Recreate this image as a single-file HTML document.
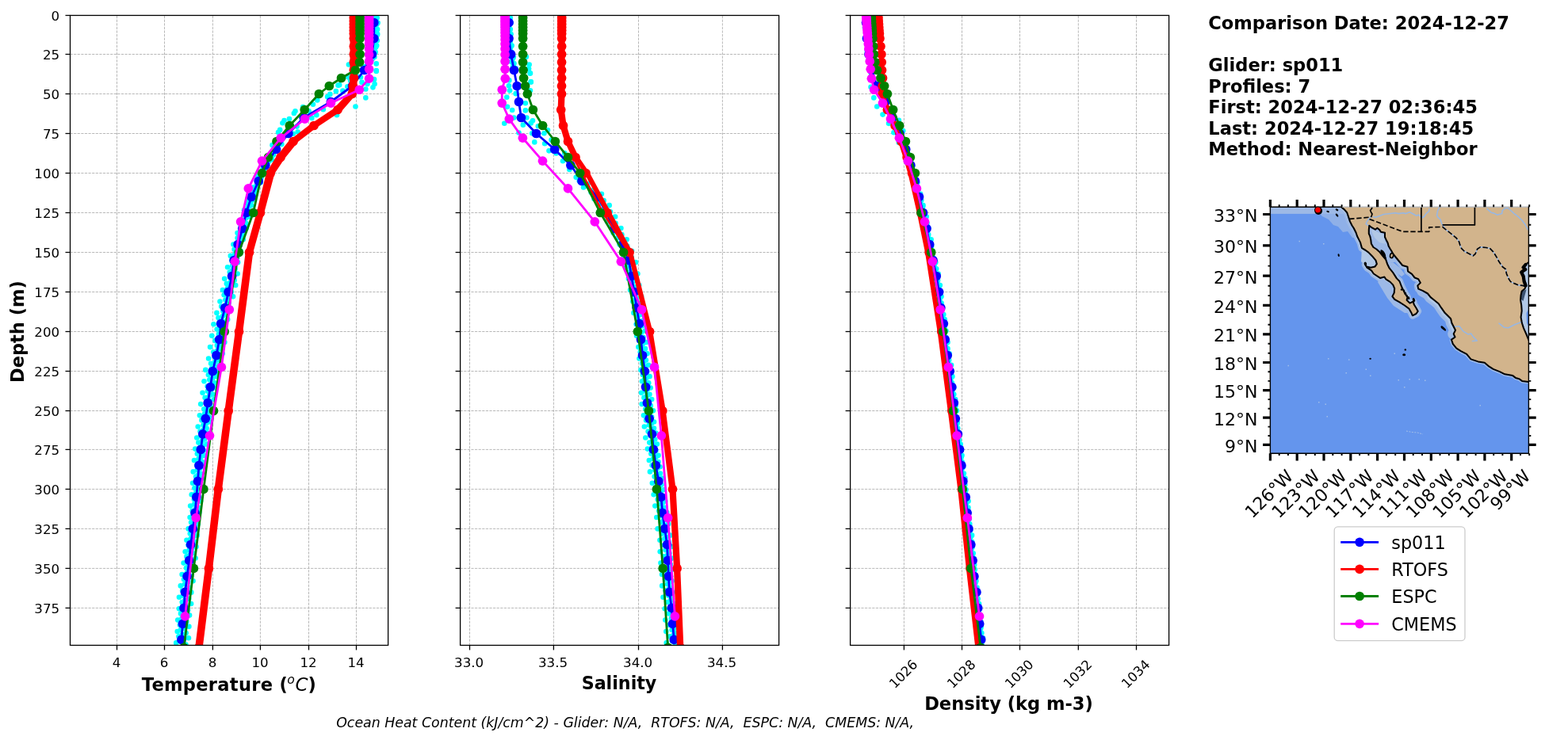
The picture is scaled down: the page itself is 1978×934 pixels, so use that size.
<!DOCTYPE html>
<html lang="en"><head><meta charset="utf-8"><title>Glider vs model profile comparison</title>
<style>html,body{margin:0;padding:0;background:#fff;}body{width:1978px;height:934px;overflow:hidden;}svg{display:block;font-family:'DejaVu Sans','Liberation Sans',sans-serif;}</style>
</head><body>
<svg width="1978" height="934" viewBox="0 0 1978 934">
<rect width="1978" height="934" fill="#fff"/>
<clipPath id="cT"><rect x="88.5" y="19.45" width="401.1" height="795"/></clipPath>
<g stroke="#b0b0b0" stroke-width="0.9" stroke-dasharray="3.2 1.4" fill="none">
<line x1="147.5" y1="814.45" x2="147.5" y2="19.45"/>
<line x1="207.5" y1="814.45" x2="207.5" y2="19.45"/>
<line x1="268.4" y1="814.45" x2="268.4" y2="19.45"/>
<line x1="328.4" y1="814.45" x2="328.4" y2="19.45"/>
<line x1="389.5" y1="814.45" x2="389.5" y2="19.45"/>
<line x1="449.5" y1="814.45" x2="449.5" y2="19.45"/>
<line x1="88.5" y1="68.5" x2="489.6" y2="68.5"/>
<line x1="88.5" y1="118.5" x2="489.6" y2="118.5"/>
<line x1="88.5" y1="168.5" x2="489.6" y2="168.5"/>
<line x1="88.5" y1="218.5" x2="489.6" y2="218.5"/>
<line x1="88.5" y1="268.5" x2="489.6" y2="268.5"/>
<line x1="88.5" y1="318.5" x2="489.6" y2="318.5"/>
<line x1="88.5" y1="368.5" x2="489.6" y2="368.5"/>
<line x1="88.5" y1="418.5" x2="489.6" y2="418.5"/>
<line x1="88.5" y1="468.5" x2="489.6" y2="468.5"/>
<line x1="88.5" y1="518.5" x2="489.6" y2="518.5"/>
<line x1="88.5" y1="567.4" x2="489.6" y2="567.4"/>
<line x1="88.5" y1="617.4" x2="489.6" y2="617.4"/>
<line x1="88.5" y1="667.4" x2="489.6" y2="667.4"/>
<line x1="88.5" y1="717.4" x2="489.6" y2="717.4"/>
<line x1="88.5" y1="767.4" x2="489.6" y2="767.4"/>
</g>
<g clip-path="url(#cT)">
<g fill="#00ffff">
<circle cx="473.26" cy="20.5" r="3.3"/>
<circle cx="473.35" cy="34.9" r="3.3"/>
<circle cx="473.54" cy="49.3" r="3.3"/>
<circle cx="471.37" cy="63.7" r="3.3"/>
<circle cx="466.1" cy="78.1" r="3.3"/>
<circle cx="332.28" cy="207.7" r="3.3"/>
<circle cx="325.11" cy="222.1" r="3.3"/>
<circle cx="318.97" cy="236.5" r="3.3"/>
<circle cx="312.69" cy="250.9" r="3.3"/>
<circle cx="308.03" cy="265.3" r="3.3"/>
<circle cx="303.11" cy="279.7" r="3.3"/>
<circle cx="299.52" cy="294.1" r="3.3"/>
<circle cx="294.43" cy="308.5" r="3.3"/>
<circle cx="290.83" cy="322.9" r="3.3"/>
<circle cx="287.11" cy="337.3" r="3.3"/>
<circle cx="283.17" cy="351.7" r="3.3"/>
<circle cx="280.94" cy="366.1" r="3.3"/>
<circle cx="277.48" cy="380.5" r="3.3"/>
<circle cx="273.39" cy="394.9" r="3.3"/>
<circle cx="269.48" cy="409.3" r="3.3"/>
<circle cx="267.28" cy="423.7" r="3.3"/>
<circle cx="265.04" cy="438.1" r="3.3"/>
<circle cx="263.11" cy="452.5" r="3.3"/>
<circle cx="259.29" cy="466.9" r="3.3"/>
<circle cx="257.45" cy="481.3" r="3.3"/>
<circle cx="255.54" cy="495.7" r="3.3"/>
<circle cx="253.18" cy="510.1" r="3.3"/>
<circle cx="251.93" cy="524.37" r="3.3"/>
<circle cx="249.74" cy="538.45" r="3.3"/>
<circle cx="248.27" cy="552.53" r="3.3"/>
<circle cx="246.26" cy="566.62" r="3.3"/>
<circle cx="245.01" cy="581" r="3.3"/>
<circle cx="243.73" cy="595.4" r="3.3"/>
<circle cx="243.09" cy="609.8" r="3.3"/>
<circle cx="241.71" cy="624.2" r="3.3"/>
<circle cx="240.16" cy="638.6" r="3.3"/>
<circle cx="239.61" cy="653" r="3.3"/>
<circle cx="237.64" cy="667.4" r="3.3"/>
<circle cx="235.47" cy="681.8" r="3.3"/>
<circle cx="233.68" cy="696.2" r="3.3"/>
<circle cx="231.63" cy="710.6" r="3.3"/>
<circle cx="229.63" cy="725" r="3.3"/>
<circle cx="227.82" cy="739.4" r="3.3"/>
<circle cx="225.98" cy="753.8" r="3.3"/>
<circle cx="225.86" cy="768.2" r="3.3"/>
<circle cx="224.26" cy="782.6" r="3.3"/>
<circle cx="223.74" cy="797" r="3.3"/>
<circle cx="222.25" cy="811.4" r="3.3"/>
<circle cx="474.17" cy="26.68" r="3.3"/>
<circle cx="474.08" cy="41.08" r="3.3"/>
<circle cx="472.53" cy="55.48" r="3.3"/>
<circle cx="470.39" cy="69.88" r="3.3"/>
<circle cx="460.64" cy="84.28" r="3.3"/>
<circle cx="339.4" cy="199.48" r="3.3"/>
<circle cx="331.52" cy="213.88" r="3.3"/>
<circle cx="324.41" cy="228.28" r="3.3"/>
<circle cx="317.3" cy="242.68" r="3.3"/>
<circle cx="312.54" cy="257.08" r="3.3"/>
<circle cx="308.22" cy="271.48" r="3.3"/>
<circle cx="303.95" cy="285.88" r="3.3"/>
<circle cx="299.61" cy="300.28" r="3.3"/>
<circle cx="295.6" cy="314.68" r="3.3"/>
<circle cx="292.45" cy="329.08" r="3.3"/>
<circle cx="289.79" cy="343.48" r="3.3"/>
<circle cx="285.85" cy="357.88" r="3.3"/>
<circle cx="282.68" cy="372.28" r="3.3"/>
<circle cx="279.22" cy="386.68" r="3.3"/>
<circle cx="275.41" cy="401.08" r="3.3"/>
<circle cx="273.7" cy="415.48" r="3.3"/>
<circle cx="271.33" cy="429.88" r="3.3"/>
<circle cx="269.31" cy="444.28" r="3.3"/>
<circle cx="266.09" cy="458.68" r="3.3"/>
<circle cx="262.86" cy="473.08" r="3.3"/>
<circle cx="261.64" cy="487.48" r="3.3"/>
<circle cx="258.62" cy="501.88" r="3.3"/>
<circle cx="257.26" cy="516.28" r="3.3"/>
<circle cx="254.49" cy="530.41" r="3.3"/>
<circle cx="252.51" cy="544.5" r="3.3"/>
<circle cx="250.37" cy="558.58" r="3.3"/>
<circle cx="248.83" cy="572.78" r="3.3"/>
<circle cx="248.28" cy="587.18" r="3.3"/>
<circle cx="247.08" cy="601.58" r="3.3"/>
<circle cx="245.33" cy="615.98" r="3.3"/>
<circle cx="244.91" cy="630.38" r="3.3"/>
<circle cx="242.67" cy="644.78" r="3.3"/>
<circle cx="241.09" cy="659.18" r="3.3"/>
<circle cx="239.78" cy="673.58" r="3.3"/>
<circle cx="237.56" cy="687.98" r="3.3"/>
<circle cx="235.42" cy="702.38" r="3.3"/>
<circle cx="234.97" cy="716.78" r="3.3"/>
<circle cx="232" cy="731.18" r="3.3"/>
<circle cx="230.18" cy="745.58" r="3.3"/>
<circle cx="229.72" cy="759.98" r="3.3"/>
<circle cx="228.01" cy="774.38" r="3.3"/>
<circle cx="226.87" cy="788.78" r="3.3"/>
<circle cx="225.4" cy="803.18" r="3.3"/>
<circle cx="473.97" cy="32.86" r="3.3"/>
<circle cx="474.37" cy="47.26" r="3.3"/>
<circle cx="472.45" cy="61.66" r="3.3"/>
<circle cx="468.18" cy="76.06" r="3.3"/>
<circle cx="335.87" cy="205.66" r="3.3"/>
<circle cx="329.02" cy="220.06" r="3.3"/>
<circle cx="323.34" cy="234.46" r="3.3"/>
<circle cx="316.13" cy="248.86" r="3.3"/>
<circle cx="311.53" cy="263.26" r="3.3"/>
<circle cx="307.99" cy="277.66" r="3.3"/>
<circle cx="303.39" cy="292.06" r="3.3"/>
<circle cx="299.17" cy="306.46" r="3.3"/>
<circle cx="296.35" cy="320.86" r="3.3"/>
<circle cx="293.21" cy="335.26" r="3.3"/>
<circle cx="290.22" cy="349.66" r="3.3"/>
<circle cx="286.83" cy="364.06" r="3.3"/>
<circle cx="284.39" cy="378.46" r="3.3"/>
<circle cx="281.34" cy="392.86" r="3.3"/>
<circle cx="276.55" cy="407.26" r="3.3"/>
<circle cx="275.93" cy="421.66" r="3.3"/>
<circle cx="273.8" cy="436.06" r="3.3"/>
<circle cx="270.7" cy="450.46" r="3.3"/>
<circle cx="267.11" cy="464.86" r="3.3"/>
<circle cx="264.3" cy="479.26" r="3.3"/>
<circle cx="262.09" cy="493.66" r="3.3"/>
<circle cx="261.12" cy="508.06" r="3.3"/>
<circle cx="258.06" cy="522.37" r="3.3"/>
<circle cx="256.43" cy="536.46" r="3.3"/>
<circle cx="253.48" cy="550.54" r="3.3"/>
<circle cx="252.52" cy="564.62" r="3.3"/>
<circle cx="250.58" cy="578.96" r="3.3"/>
<circle cx="248.79" cy="593.36" r="3.3"/>
<circle cx="247.59" cy="607.76" r="3.3"/>
<circle cx="247.17" cy="622.16" r="3.3"/>
<circle cx="244.98" cy="636.56" r="3.3"/>
<circle cx="243.75" cy="650.96" r="3.3"/>
<circle cx="242.26" cy="665.36" r="3.3"/>
<circle cx="240.73" cy="679.76" r="3.3"/>
<circle cx="238.71" cy="694.16" r="3.3"/>
<circle cx="236.84" cy="708.56" r="3.3"/>
<circle cx="235.85" cy="722.96" r="3.3"/>
<circle cx="232.98" cy="737.36" r="3.3"/>
<circle cx="231.08" cy="751.76" r="3.3"/>
<circle cx="230.35" cy="766.16" r="3.3"/>
<circle cx="229.52" cy="780.56" r="3.3"/>
<circle cx="227.85" cy="794.96" r="3.3"/>
<circle cx="227.02" cy="809.36" r="3.3"/>
<circle cx="474.7" cy="24.62" r="3.3"/>
<circle cx="474.86" cy="39.02" r="3.3"/>
<circle cx="473.89" cy="53.42" r="3.3"/>
<circle cx="472.27" cy="67.82" r="3.3"/>
<circle cx="463.12" cy="82.22" r="3.3"/>
<circle cx="343.06" cy="197.42" r="3.3"/>
<circle cx="333.59" cy="211.82" r="3.3"/>
<circle cx="327.45" cy="226.22" r="3.3"/>
<circle cx="320.8" cy="240.62" r="3.3"/>
<circle cx="314.48" cy="255.02" r="3.3"/>
<circle cx="309.73" cy="269.42" r="3.3"/>
<circle cx="306.25" cy="283.82" r="3.3"/>
<circle cx="303.65" cy="298.22" r="3.3"/>
<circle cx="299.45" cy="312.62" r="3.3"/>
<circle cx="296.22" cy="327.02" r="3.3"/>
<circle cx="292.85" cy="341.42" r="3.3"/>
<circle cx="291.14" cy="355.82" r="3.3"/>
<circle cx="287.71" cy="370.22" r="3.3"/>
<circle cx="284.96" cy="384.62" r="3.3"/>
<circle cx="280.86" cy="399.02" r="3.3"/>
<circle cx="278.91" cy="413.42" r="3.3"/>
<circle cx="276.17" cy="427.82" r="3.3"/>
<circle cx="274.23" cy="442.22" r="3.3"/>
<circle cx="271.42" cy="456.62" r="3.3"/>
<circle cx="268.49" cy="471.02" r="3.3"/>
<circle cx="266.18" cy="485.42" r="3.3"/>
<circle cx="263.87" cy="499.82" r="3.3"/>
<circle cx="261.78" cy="514.22" r="3.3"/>
<circle cx="259.86" cy="528.4" r="3.3"/>
<circle cx="256.55" cy="542.48" r="3.3"/>
<circle cx="254.94" cy="556.56" r="3.3"/>
<circle cx="253.48" cy="570.72" r="3.3"/>
<circle cx="251.78" cy="585.12" r="3.3"/>
<circle cx="249.98" cy="599.52" r="3.3"/>
<circle cx="249.35" cy="613.92" r="3.3"/>
<circle cx="248.23" cy="628.32" r="3.3"/>
<circle cx="246.52" cy="642.72" r="3.3"/>
<circle cx="244.86" cy="657.12" r="3.3"/>
<circle cx="242.58" cy="671.52" r="3.3"/>
<circle cx="240.92" cy="685.92" r="3.3"/>
<circle cx="239.53" cy="700.32" r="3.3"/>
<circle cx="237.16" cy="714.72" r="3.3"/>
<circle cx="236.07" cy="729.12" r="3.3"/>
<circle cx="234.7" cy="743.52" r="3.3"/>
<circle cx="233.24" cy="757.92" r="3.3"/>
<circle cx="231.95" cy="772.32" r="3.3"/>
<circle cx="230.39" cy="786.72" r="3.3"/>
<circle cx="229.73" cy="801.12" r="3.3"/>
<circle cx="475.36" cy="30.8" r="3.3"/>
<circle cx="475.25" cy="45.2" r="3.3"/>
<circle cx="474.18" cy="59.6" r="3.3"/>
<circle cx="469.77" cy="74" r="3.3"/>
<circle cx="339.29" cy="203.6" r="3.3"/>
<circle cx="330.89" cy="218" r="3.3"/>
<circle cx="325.45" cy="232.4" r="3.3"/>
<circle cx="318.79" cy="246.8" r="3.3"/>
<circle cx="313.59" cy="261.2" r="3.3"/>
<circle cx="310.22" cy="275.6" r="3.3"/>
<circle cx="306.47" cy="290" r="3.3"/>
<circle cx="302.68" cy="304.4" r="3.3"/>
<circle cx="299.51" cy="318.8" r="3.3"/>
<circle cx="295.66" cy="333.2" r="3.3"/>
<circle cx="293.57" cy="347.6" r="3.3"/>
<circle cx="290.91" cy="362" r="3.3"/>
<circle cx="288.29" cy="376.4" r="3.3"/>
<circle cx="284.45" cy="390.8" r="3.3"/>
<circle cx="280.74" cy="405.2" r="3.3"/>
<circle cx="279.83" cy="419.6" r="3.3"/>
<circle cx="277.59" cy="434" r="3.3"/>
<circle cx="274.63" cy="448.4" r="3.3"/>
<circle cx="271.89" cy="462.8" r="3.3"/>
<circle cx="268.51" cy="477.2" r="3.3"/>
<circle cx="266.87" cy="491.6" r="3.3"/>
<circle cx="263.92" cy="506" r="3.3"/>
<circle cx="262.12" cy="520.36" r="3.3"/>
<circle cx="260.29" cy="534.44" r="3.3"/>
<circle cx="257.89" cy="548.52" r="3.3"/>
<circle cx="255.97" cy="562.61" r="3.3"/>
<circle cx="253.5" cy="576.9" r="3.3"/>
<circle cx="252.2" cy="591.3" r="3.3"/>
<circle cx="250.68" cy="605.7" r="3.3"/>
<circle cx="249.18" cy="620.1" r="3.3"/>
<circle cx="248.51" cy="634.5" r="3.3"/>
<circle cx="247.72" cy="648.9" r="3.3"/>
<circle cx="245.88" cy="663.3" r="3.3"/>
<circle cx="243.83" cy="677.7" r="3.3"/>
<circle cx="242.5" cy="692.1" r="3.3"/>
<circle cx="240.26" cy="706.5" r="3.3"/>
<circle cx="238.33" cy="720.9" r="3.3"/>
<circle cx="236.91" cy="735.3" r="3.3"/>
<circle cx="234.98" cy="749.7" r="3.3"/>
<circle cx="233.88" cy="764.1" r="3.3"/>
<circle cx="233.13" cy="778.5" r="3.3"/>
<circle cx="232.38" cy="792.9" r="3.3"/>
<circle cx="231.11" cy="807.3" r="3.3"/>
<circle cx="475.65" cy="22.56" r="3.3"/>
<circle cx="476.07" cy="36.96" r="3.3"/>
<circle cx="475.83" cy="51.36" r="3.3"/>
<circle cx="473.6" cy="65.76" r="3.3"/>
<circle cx="464.79" cy="80.16" r="3.3"/>
<circle cx="344.95" cy="195.36" r="3.3"/>
<circle cx="336.71" cy="209.76" r="3.3"/>
<circle cx="329.48" cy="224.16" r="3.3"/>
<circle cx="324.1" cy="238.56" r="3.3"/>
<circle cx="318.06" cy="252.96" r="3.3"/>
<circle cx="313.13" cy="267.36" r="3.3"/>
<circle cx="310.38" cy="281.76" r="3.3"/>
<circle cx="305.66" cy="296.16" r="3.3"/>
<circle cx="302.12" cy="310.56" r="3.3"/>
<circle cx="299.25" cy="324.96" r="3.3"/>
<circle cx="296.64" cy="339.36" r="3.3"/>
<circle cx="295.68" cy="353.76" r="3.3"/>
<circle cx="291.73" cy="368.16" r="3.3"/>
<circle cx="288.52" cy="382.56" r="3.3"/>
<circle cx="284.98" cy="396.96" r="3.3"/>
<circle cx="282.59" cy="411.36" r="3.3"/>
<circle cx="280.93" cy="425.76" r="3.3"/>
<circle cx="278.78" cy="440.16" r="3.3"/>
<circle cx="275.87" cy="454.56" r="3.3"/>
<circle cx="272.77" cy="468.96" r="3.3"/>
<circle cx="270.92" cy="483.36" r="3.3"/>
<circle cx="268.34" cy="497.76" r="3.3"/>
<circle cx="265.44" cy="512.16" r="3.3"/>
<circle cx="263.65" cy="526.38" r="3.3"/>
<circle cx="260.6" cy="540.47" r="3.3"/>
<circle cx="258.02" cy="554.55" r="3.3"/>
<circle cx="256.7" cy="568.66" r="3.3"/>
<circle cx="255.21" cy="583.06" r="3.3"/>
<circle cx="253.04" cy="597.46" r="3.3"/>
<circle cx="251.87" cy="611.86" r="3.3"/>
<circle cx="250.81" cy="626.26" r="3.3"/>
<circle cx="250.23" cy="640.66" r="3.3"/>
<circle cx="248.56" cy="655.06" r="3.3"/>
<circle cx="246.96" cy="669.46" r="3.3"/>
<circle cx="245.43" cy="683.86" r="3.3"/>
<circle cx="243.63" cy="698.26" r="3.3"/>
<circle cx="242.78" cy="712.66" r="3.3"/>
<circle cx="241.21" cy="727.06" r="3.3"/>
<circle cx="238.33" cy="741.46" r="3.3"/>
<circle cx="238.26" cy="755.86" r="3.3"/>
<circle cx="237.03" cy="770.26" r="3.3"/>
<circle cx="235.26" cy="784.66" r="3.3"/>
<circle cx="234.72" cy="799.06" r="3.3"/>
<circle cx="234.44" cy="813.46" r="3.3"/>
<circle cx="476.63" cy="28.74" r="3.3"/>
<circle cx="476.2" cy="43.14" r="3.3"/>
<circle cx="475.23" cy="57.54" r="3.3"/>
<circle cx="472.42" cy="71.94" r="3.3"/>
<circle cx="343.08" cy="201.54" r="3.3"/>
<circle cx="335.53" cy="215.94" r="3.3"/>
<circle cx="328.83" cy="230.34" r="3.3"/>
<circle cx="322.75" cy="244.74" r="3.3"/>
<circle cx="317.16" cy="259.14" r="3.3"/>
<circle cx="313.84" cy="273.54" r="3.3"/>
<circle cx="310.73" cy="287.94" r="3.3"/>
<circle cx="306.75" cy="302.34" r="3.3"/>
<circle cx="303.55" cy="316.74" r="3.3"/>
<circle cx="300.04" cy="331.14" r="3.3"/>
<circle cx="299.61" cy="345.54" r="3.3"/>
<circle cx="297.2" cy="359.94" r="3.3"/>
<circle cx="294.06" cy="374.34" r="3.3"/>
<circle cx="290.39" cy="388.74" r="3.3"/>
<circle cx="287.11" cy="403.14" r="3.3"/>
<circle cx="284.23" cy="417.54" r="3.3"/>
<circle cx="283.37" cy="431.94" r="3.3"/>
<circle cx="280.67" cy="446.34" r="3.3"/>
<circle cx="276.73" cy="460.74" r="3.3"/>
<circle cx="273.62" cy="475.14" r="3.3"/>
<circle cx="272.06" cy="489.54" r="3.3"/>
<circle cx="269.95" cy="503.94" r="3.3"/>
<circle cx="268.15" cy="518.34" r="3.3"/>
<circle cx="265.26" cy="532.43" r="3.3"/>
<circle cx="261.8" cy="546.51" r="3.3"/>
<circle cx="260.74" cy="560.59" r="3.3"/>
<circle cx="257.69" cy="574.84" r="3.3"/>
<circle cx="256.85" cy="589.24" r="3.3"/>
<circle cx="254.6" cy="603.64" r="3.3"/>
<circle cx="253.38" cy="618.04" r="3.3"/>
<circle cx="253.13" cy="632.44" r="3.3"/>
<circle cx="251.28" cy="646.84" r="3.3"/>
<circle cx="249.74" cy="661.24" r="3.3"/>
<circle cx="248.67" cy="675.64" r="3.3"/>
<circle cx="247.48" cy="690.04" r="3.3"/>
<circle cx="246.57" cy="704.44" r="3.3"/>
<circle cx="244.84" cy="718.84" r="3.3"/>
<circle cx="243.56" cy="733.24" r="3.3"/>
<circle cx="241.31" cy="747.64" r="3.3"/>
<circle cx="241.11" cy="762.04" r="3.3"/>
<circle cx="239.06" cy="776.44" r="3.3"/>
<circle cx="238.39" cy="790.84" r="3.3"/>
<circle cx="237.91" cy="805.24" r="3.3"/>
<circle cx="474.73" cy="90" r="3.3"/>
<circle cx="472.05" cy="100.17" r="3.3"/>
<circle cx="470.45" cy="110.35" r="3.3"/>
<circle cx="461.34" cy="112.49" r="3.3"/>
<circle cx="461.34" cy="123.41" r="3.3"/>
<circle cx="448.49" cy="134.44" r="3.3"/>
<circle cx="426.54" cy="107.67" r="3.3"/>
<circle cx="423.86" cy="115.17" r="3.3"/>
<circle cx="416.37" cy="118.91" r="3.3"/>
<circle cx="438.32" cy="109.28" r="3.3"/>
<circle cx="456.52" cy="103.92" r="3.3"/>
<circle cx="432.43" cy="114.63" r="3.3"/>
<circle cx="372.46" cy="140.33" r="3.3"/>
<circle cx="370.85" cy="143.01" r="3.3"/>
<circle cx="358.54" cy="152.11" r="3.3"/>
<circle cx="356.4" cy="155.32" r="3.3"/>
<circle cx="353.18" cy="163.89" r="3.3"/>
<circle cx="351.04" cy="167.1" r="3.3"/>
<circle cx="424.93" cy="145.15" r="3.3"/>
<circle cx="399.23" cy="145.15" r="3.3"/>
<circle cx="393.34" cy="148.9" r="3.3"/>
<circle cx="374.6" cy="159.61" r="3.3"/>
<circle cx="375.67" cy="166.57" r="3.3"/>
<circle cx="369.78" cy="168.71" r="3.3"/>
<circle cx="407.8" cy="138.19" r="3.3"/>
<circle cx="394.95" cy="131.76" r="3.3"/>
<circle cx="400.3" cy="126.41" r="3.3"/>
<circle cx="382.1" cy="134.98" r="3.3"/>
<circle cx="355.32" cy="182.1" r="3.3"/>
<circle cx="343.54" cy="183.17" r="3.3"/>
<circle cx="413.15" cy="122.13" r="3.3"/>
<circle cx="364.96" cy="149.97" r="3.3"/>
<circle cx="389.59" cy="140.33" r="3.3"/>
<circle cx="442.07" cy="101.78" r="3.3"/>
<circle cx="450.63" cy="96.43" r="3.3"/>
<circle cx="474.73" cy="80.4" r="3.3"/>
<circle cx="474.73" cy="88.96" r="3.3"/>
<circle cx="439.93" cy="81.47" r="3.3"/>
<circle cx="439.39" cy="97.53" r="3.3"/>
<circle cx="454.92" cy="97.53" r="3.3"/>
<circle cx="463.48" cy="106.1" r="3.3"/>
<circle cx="472.59" cy="106.1" r="3.3"/>
<circle cx="428.15" cy="107.17" r="3.3"/>
<circle cx="444.21" cy="106.1" r="3.3"/>
</g>
<polyline points="471.8,28.5 471.8,48.5 469.3,68.5 459.5,88.5 444.5,108.5 417.4,128.5 383.2,148.5 363.9,168.5 348.5,188.5 334.8,208.5 326.2,228.5 317.1,248.5 310.6,268.5 305.8,288.5 300.2,308.5 295.2,328.5 292.6,348.5 288.1,368.5 283.8,388.5 278.7,408.5 276.7,428.5 273,448.5 268.3,468.5 265.4,488.5 262.2,508.5 259.3,528.28 255.8,547.84 253.3,567.4 251,587.4 249.5,607.4 247.8,627.4 246,647.4 243.3,667.4 240.6,687.4 238.7,707.4 236.1,727.4 233.5,747.4 232,767.4 230.5,787.4 228.9,807.4" fill="none" stroke="#0000ff" stroke-width="2.8" stroke-linejoin="round" stroke-linecap="butt"/>
<g fill="#0000ff">
<circle cx="471.8" cy="28.5" r="5.85"/>
<circle cx="471.8" cy="48.5" r="5.85"/>
<circle cx="469.3" cy="68.5" r="5.85"/>
<circle cx="459.5" cy="88.5" r="5.85"/>
<circle cx="444.5" cy="108.5" r="5.85"/>
<circle cx="417.4" cy="128.5" r="5.85"/>
<circle cx="383.2" cy="148.5" r="5.85"/>
<circle cx="363.9" cy="168.5" r="5.85"/>
<circle cx="348.5" cy="188.5" r="5.85"/>
<circle cx="334.8" cy="208.5" r="5.85"/>
<circle cx="326.2" cy="228.5" r="5.85"/>
<circle cx="317.1" cy="248.5" r="5.85"/>
<circle cx="310.6" cy="268.5" r="5.85"/>
<circle cx="305.8" cy="288.5" r="5.85"/>
<circle cx="300.2" cy="308.5" r="5.85"/>
<circle cx="295.2" cy="328.5" r="5.85"/>
<circle cx="292.6" cy="348.5" r="5.85"/>
<circle cx="288.1" cy="368.5" r="5.85"/>
<circle cx="283.8" cy="388.5" r="5.85"/>
<circle cx="278.7" cy="408.5" r="5.85"/>
<circle cx="276.7" cy="428.5" r="5.85"/>
<circle cx="273" cy="448.5" r="5.85"/>
<circle cx="268.3" cy="468.5" r="5.85"/>
<circle cx="265.4" cy="488.5" r="5.85"/>
<circle cx="262.2" cy="508.5" r="5.85"/>
<circle cx="259.3" cy="528.28" r="5.85"/>
<circle cx="255.8" cy="547.84" r="5.85"/>
<circle cx="253.3" cy="567.4" r="5.85"/>
<circle cx="251" cy="587.4" r="5.85"/>
<circle cx="249.5" cy="607.4" r="5.85"/>
<circle cx="247.8" cy="627.4" r="5.85"/>
<circle cx="246" cy="647.4" r="5.85"/>
<circle cx="243.3" cy="667.4" r="5.85"/>
<circle cx="240.6" cy="687.4" r="5.85"/>
<circle cx="238.7" cy="707.4" r="5.85"/>
<circle cx="236.1" cy="727.4" r="5.85"/>
<circle cx="233.5" cy="747.4" r="5.85"/>
<circle cx="232" cy="767.4" r="5.85"/>
<circle cx="230.5" cy="787.4" r="5.85"/>
<circle cx="228.9" cy="807.4" r="5.85"/>
</g>
<polyline points="442.9,18.5 442.9,22.5 442.9,26.5 442.9,30.5 442.9,34.5 442.9,38.5 442.9,42.5 442.9,48.5 442.9,58.5 442.9,68.5 442.9,78.5 442.9,88.5 443,98.5 441.9,108.5 440.4,118.5 421.4,138.5 391.47,158.5 365.53,178.5 349.6,198.5 337.3,218.5 325,268.5 311.1,318.5 298.1,418.5 284.8,518.5 271.9,617.4 260,717.4 247.5,817.4" fill="none" stroke="#ff0000" stroke-width="2.8" stroke-linejoin="round" stroke-linecap="butt"/>
<polyline points="444.6,18.5 444.6,22.5 444.6,26.5 444.6,30.5 444.6,34.5 444.6,38.5 444.6,42.5 444.6,48.5 444.6,58.5 444.6,68.5 444.6,78.5 444.6,88.5 444.7,98.5 443.6,108.5 442.3,118.5 423.7,138.5 393.73,158.5 367.77,178.5 351.8,198.5 339.25,218.5 326.7,268.5 312.8,318.5 299.8,418.5 286.5,518.5 273.6,617.4 261.7,717.4 249.2,817.4" fill="none" stroke="#ff0000" stroke-width="2.8" stroke-linejoin="round" stroke-linecap="butt"/>
<polyline points="446.3,18.5 446.3,22.5 446.3,26.5 446.3,30.5 446.3,34.5 446.3,38.5 446.3,42.5 446.3,48.5 446.3,58.5 446.3,68.5 446.3,78.5 446.3,88.5 446.4,98.5 445.3,108.5 444.2,118.5 426,138.5 396,158.5 370,178.5 354,198.5 341.2,218.5 328.4,268.5 314.5,318.5 301.5,418.5 288.2,518.5 275.3,617.4 263.4,717.4 250.9,817.4" fill="none" stroke="#ff0000" stroke-width="2.8" stroke-linejoin="round" stroke-linecap="butt"/>
<polyline points="448,18.5 448,22.5 448,26.5 448,30.5 448,34.5 448,38.5 448,42.5 448,48.5 448,58.5 448,68.5 448,78.5 448,88.5 448.1,98.5 447,108.5 446.1,118.5 428.3,138.5 398.27,158.5 372.23,178.5 356.2,198.5 343.15,218.5 330.1,268.5 316.2,318.5 303.2,418.5 289.9,518.5 277,617.4 265.1,717.4 252.6,817.4" fill="none" stroke="#ff0000" stroke-width="2.8" stroke-linejoin="round" stroke-linecap="butt"/>
<polyline points="449.7,18.5 449.7,22.5 449.7,26.5 449.7,30.5 449.7,34.5 449.7,38.5 449.7,42.5 449.7,48.5 449.7,58.5 449.7,68.5 449.7,78.5 449.7,88.5 449.8,98.5 448.7,108.5 448,118.5 430.6,138.5 400.53,158.5 374.47,178.5 358.4,198.5 345.1,218.5 331.8,268.5 317.9,318.5 304.9,418.5 291.6,518.5 278.7,617.4 266.8,717.4 254.3,817.4" fill="none" stroke="#ff0000" stroke-width="2.8" stroke-linejoin="round" stroke-linecap="butt"/>
<g fill="#ff0000">
<circle cx="446.3" cy="18.5" r="5.85"/>
<circle cx="446.3" cy="22.5" r="5.85"/>
<circle cx="446.3" cy="26.5" r="5.85"/>
<circle cx="446.3" cy="30.5" r="5.85"/>
<circle cx="446.3" cy="34.5" r="5.85"/>
<circle cx="446.3" cy="38.5" r="5.85"/>
<circle cx="446.3" cy="42.5" r="5.85"/>
<circle cx="446.3" cy="48.5" r="5.85"/>
<circle cx="446.3" cy="58.5" r="5.85"/>
<circle cx="446.3" cy="68.5" r="5.85"/>
<circle cx="446.3" cy="78.5" r="5.85"/>
<circle cx="446.3" cy="88.5" r="5.85"/>
<circle cx="446.4" cy="98.5" r="5.85"/>
<circle cx="445.3" cy="108.5" r="5.85"/>
<circle cx="444.2" cy="118.5" r="5.85"/>
<circle cx="426" cy="138.5" r="5.85"/>
<circle cx="396" cy="158.5" r="5.85"/>
<circle cx="370" cy="178.5" r="5.85"/>
<circle cx="354" cy="198.5" r="5.85"/>
<circle cx="341.2" cy="218.5" r="5.85"/>
<circle cx="328.4" cy="268.5" r="5.85"/>
<circle cx="314.5" cy="318.5" r="5.85"/>
<circle cx="301.5" cy="418.5" r="5.85"/>
<circle cx="288.2" cy="518.5" r="5.85"/>
<circle cx="275.3" cy="617.4" r="5.85"/>
<circle cx="263.4" cy="717.4" r="5.85"/>
<circle cx="250.9" cy="817.4" r="5.85"/>
</g>
<polyline points="454.1,18.5 454.1,22.5 454.1,26.5 454.1,30.5 454.1,34.5 454.1,38.5 454.1,42.5 454.1,48.5 454.1,58.5 454.1,68.5 453.6,78.5 448.3,88.5 430.5,98.5 415.3,108.5 402.4,118.5 384.2,138.5 365.3,158.5 349,178.5 338.5,198.5 330.5,218.5 319.5,268.5 301.3,318.5 283.2,418.5 269.5,518.5 256.9,617.4 244.4,717.4 232,817.4" fill="none" stroke="#008000" stroke-width="2.8" stroke-linejoin="round" stroke-linecap="butt"/>
<g fill="#008000">
<circle cx="454.1" cy="18.5" r="5.85"/>
<circle cx="454.1" cy="22.5" r="5.85"/>
<circle cx="454.1" cy="26.5" r="5.85"/>
<circle cx="454.1" cy="30.5" r="5.85"/>
<circle cx="454.1" cy="34.5" r="5.85"/>
<circle cx="454.1" cy="38.5" r="5.85"/>
<circle cx="454.1" cy="42.5" r="5.85"/>
<circle cx="454.1" cy="48.5" r="5.85"/>
<circle cx="454.1" cy="58.5" r="5.85"/>
<circle cx="454.1" cy="68.5" r="5.85"/>
<circle cx="453.6" cy="78.5" r="5.85"/>
<circle cx="448.3" cy="88.5" r="5.85"/>
<circle cx="430.5" cy="98.5" r="5.85"/>
<circle cx="415.3" cy="108.5" r="5.85"/>
<circle cx="402.4" cy="118.5" r="5.85"/>
<circle cx="384.2" cy="138.5" r="5.85"/>
<circle cx="365.3" cy="158.5" r="5.85"/>
<circle cx="349" cy="178.5" r="5.85"/>
<circle cx="338.5" cy="198.5" r="5.85"/>
<circle cx="330.5" cy="218.5" r="5.85"/>
<circle cx="319.5" cy="268.5" r="5.85"/>
<circle cx="301.3" cy="318.5" r="5.85"/>
<circle cx="283.2" cy="418.5" r="5.85"/>
<circle cx="269.5" cy="518.5" r="5.85"/>
<circle cx="256.9" cy="617.4" r="5.85"/>
<circle cx="244.4" cy="717.4" r="5.85"/>
<circle cx="232" cy="817.4" r="5.85"/>
</g>
<polyline points="465.6,19.49 465.6,21.58 465.6,23.79 465.6,26.14 465.6,28.66 465.6,31.38 465.6,34.36 465.6,37.65 465.6,41.31 465.6,45.43 465.6,50.12 465.6,55.49 465.6,61.7 465.6,68.92 465.6,77.39 465.6,87.37 465.6,99.19 453.3,113.25 417.4,130.03 384.5,150.11 354.3,174.21 330.5,203.15 313.3,237.96 303.6,279.83 296.3,330.2 289.3,390.75 279.4,463.45 264.5,549.87 247.2,653.65 233.5,777.83" fill="none" stroke="#ff00ff" stroke-width="2.8" stroke-linejoin="round" stroke-linecap="butt"/>
<g fill="#ff00ff">
<circle cx="465.6" cy="19.49" r="5.85"/>
<circle cx="465.6" cy="21.58" r="5.85"/>
<circle cx="465.6" cy="23.79" r="5.85"/>
<circle cx="465.6" cy="26.14" r="5.85"/>
<circle cx="465.6" cy="28.66" r="5.85"/>
<circle cx="465.6" cy="31.38" r="5.85"/>
<circle cx="465.6" cy="34.36" r="5.85"/>
<circle cx="465.6" cy="37.65" r="5.85"/>
<circle cx="465.6" cy="41.31" r="5.85"/>
<circle cx="465.6" cy="45.43" r="5.85"/>
<circle cx="465.6" cy="50.12" r="5.85"/>
<circle cx="465.6" cy="55.49" r="5.85"/>
<circle cx="465.6" cy="61.7" r="5.85"/>
<circle cx="465.6" cy="68.92" r="5.85"/>
<circle cx="465.6" cy="77.39" r="5.85"/>
<circle cx="465.6" cy="87.37" r="5.85"/>
<circle cx="465.6" cy="99.19" r="5.85"/>
<circle cx="453.3" cy="113.25" r="5.85"/>
<circle cx="417.4" cy="130.03" r="5.85"/>
<circle cx="384.5" cy="150.11" r="5.85"/>
<circle cx="354.3" cy="174.21" r="5.85"/>
<circle cx="330.5" cy="203.15" r="5.85"/>
<circle cx="313.3" cy="237.96" r="5.85"/>
<circle cx="303.6" cy="279.83" r="5.85"/>
<circle cx="296.3" cy="330.2" r="5.85"/>
<circle cx="289.3" cy="390.75" r="5.85"/>
<circle cx="279.4" cy="463.45" r="5.85"/>
<circle cx="264.5" cy="549.87" r="5.85"/>
<circle cx="247.2" cy="653.65" r="5.85"/>
<circle cx="233.5" cy="777.83" r="5.85"/>
</g>
</g>
<rect x="88.5" y="19.45" width="401.1" height="795" fill="none" stroke="#000" stroke-width="1.3"/>
<g stroke="#000" stroke-width="1.3">
<line x1="147.5" y1="814.45" x2="147.5" y2="820.45"/>
<line x1="207.5" y1="814.45" x2="207.5" y2="820.45"/>
<line x1="268.4" y1="814.45" x2="268.4" y2="820.45"/>
<line x1="328.4" y1="814.45" x2="328.4" y2="820.45"/>
<line x1="389.5" y1="814.45" x2="389.5" y2="820.45"/>
<line x1="449.5" y1="814.45" x2="449.5" y2="820.45"/>
<line x1="88.5" y1="19.45" x2="82.5" y2="19.45"/>
<line x1="88.5" y1="68.5" x2="82.5" y2="68.5"/>
<line x1="88.5" y1="118.5" x2="82.5" y2="118.5"/>
<line x1="88.5" y1="168.5" x2="82.5" y2="168.5"/>
<line x1="88.5" y1="218.5" x2="82.5" y2="218.5"/>
<line x1="88.5" y1="268.5" x2="82.5" y2="268.5"/>
<line x1="88.5" y1="318.5" x2="82.5" y2="318.5"/>
<line x1="88.5" y1="368.5" x2="82.5" y2="368.5"/>
<line x1="88.5" y1="418.5" x2="82.5" y2="418.5"/>
<line x1="88.5" y1="468.5" x2="82.5" y2="468.5"/>
<line x1="88.5" y1="518.5" x2="82.5" y2="518.5"/>
<line x1="88.5" y1="567.4" x2="82.5" y2="567.4"/>
<line x1="88.5" y1="617.4" x2="82.5" y2="617.4"/>
<line x1="88.5" y1="667.4" x2="82.5" y2="667.4"/>
<line x1="88.5" y1="717.4" x2="82.5" y2="717.4"/>
<line x1="88.5" y1="767.4" x2="82.5" y2="767.4"/>
</g>
<g font-size="16.67" fill="#000">
<text x="147.1" y="841.5" text-anchor="middle">4</text>
<text x="207.1" y="841.5" text-anchor="middle">6</text>
<text x="268" y="841.5" text-anchor="middle">8</text>
<text x="328" y="841.5" text-anchor="middle">10</text>
<text x="389.1" y="841.5" text-anchor="middle">12</text>
<text x="449.1" y="841.5" text-anchor="middle">14</text>
<text x="75.1" y="25.85" text-anchor="end">0</text>
<text x="75.1" y="74.9" text-anchor="end">25</text>
<text x="75.1" y="124.9" text-anchor="end">50</text>
<text x="75.1" y="174.9" text-anchor="end">75</text>
<text x="75.1" y="224.9" text-anchor="end">100</text>
<text x="75.1" y="274.9" text-anchor="end">125</text>
<text x="75.1" y="324.9" text-anchor="end">150</text>
<text x="75.1" y="374.9" text-anchor="end">175</text>
<text x="75.1" y="424.9" text-anchor="end">200</text>
<text x="75.1" y="474.9" text-anchor="end">225</text>
<text x="75.1" y="524.9" text-anchor="end">250</text>
<text x="75.1" y="573.8" text-anchor="end">275</text>
<text x="75.1" y="623.8" text-anchor="end">300</text>
<text x="75.1" y="673.8" text-anchor="end">325</text>
<text x="75.1" y="723.8" text-anchor="end">350</text>
<text x="75.1" y="773.8" text-anchor="end">375</text>
</g>
<clipPath id="cS"><rect x="580.6" y="19.45" width="402" height="795"/></clipPath>
<g stroke="#b0b0b0" stroke-width="0.9" stroke-dasharray="3.2 1.4" fill="none">
<line x1="592.5" y1="814.45" x2="592.5" y2="19.45"/>
<line x1="698.4" y1="814.45" x2="698.4" y2="19.45"/>
<line x1="805.5" y1="814.45" x2="805.5" y2="19.45"/>
<line x1="911.4" y1="814.45" x2="911.4" y2="19.45"/>
<line x1="580.6" y1="68.5" x2="982.6" y2="68.5"/>
<line x1="580.6" y1="118.5" x2="982.6" y2="118.5"/>
<line x1="580.6" y1="168.5" x2="982.6" y2="168.5"/>
<line x1="580.6" y1="218.5" x2="982.6" y2="218.5"/>
<line x1="580.6" y1="268.5" x2="982.6" y2="268.5"/>
<line x1="580.6" y1="318.5" x2="982.6" y2="318.5"/>
<line x1="580.6" y1="368.5" x2="982.6" y2="368.5"/>
<line x1="580.6" y1="418.5" x2="982.6" y2="418.5"/>
<line x1="580.6" y1="468.5" x2="982.6" y2="468.5"/>
<line x1="580.6" y1="518.5" x2="982.6" y2="518.5"/>
<line x1="580.6" y1="567.4" x2="982.6" y2="567.4"/>
<line x1="580.6" y1="617.4" x2="982.6" y2="617.4"/>
<line x1="580.6" y1="667.4" x2="982.6" y2="667.4"/>
<line x1="580.6" y1="717.4" x2="982.6" y2="717.4"/>
<line x1="580.6" y1="767.4" x2="982.6" y2="767.4"/>
</g>
<g clip-path="url(#cS)">
<g fill="#00ffff">
<circle cx="640.98" cy="20.5" r="3.3"/>
<circle cx="641.13" cy="34.9" r="3.3"/>
<circle cx="641.24" cy="49.3" r="3.3"/>
<circle cx="642.69" cy="63.7" r="3.3"/>
<circle cx="645.03" cy="78.1" r="3.3"/>
<circle cx="736.1" cy="236.5" r="3.3"/>
<circle cx="749.48" cy="250.9" r="3.3"/>
<circle cx="758.58" cy="265.3" r="3.3"/>
<circle cx="766.09" cy="279.7" r="3.3"/>
<circle cx="773.65" cy="294.1" r="3.3"/>
<circle cx="781.58" cy="308.5" r="3.3"/>
<circle cx="787.38" cy="322.9" r="3.3"/>
<circle cx="790.15" cy="337.3" r="3.3"/>
<circle cx="792.89" cy="351.7" r="3.3"/>
<circle cx="795.05" cy="366.1" r="3.3"/>
<circle cx="798.33" cy="380.5" r="3.3"/>
<circle cx="799.4" cy="394.9" r="3.3"/>
<circle cx="802.74" cy="409.3" r="3.3"/>
<circle cx="803.1" cy="423.7" r="3.3"/>
<circle cx="805.35" cy="438.1" r="3.3"/>
<circle cx="806.41" cy="452.5" r="3.3"/>
<circle cx="808.48" cy="466.9" r="3.3"/>
<circle cx="809.95" cy="481.3" r="3.3"/>
<circle cx="809.07" cy="495.7" r="3.3"/>
<circle cx="809.66" cy="510.1" r="3.3"/>
<circle cx="811.96" cy="524.37" r="3.3"/>
<circle cx="812.88" cy="538.45" r="3.3"/>
<circle cx="814.33" cy="552.53" r="3.3"/>
<circle cx="816.9" cy="566.62" r="3.3"/>
<circle cx="818.84" cy="581" r="3.3"/>
<circle cx="819.95" cy="595.4" r="3.3"/>
<circle cx="822.82" cy="609.8" r="3.3"/>
<circle cx="824.67" cy="624.2" r="3.3"/>
<circle cx="826.33" cy="638.6" r="3.3"/>
<circle cx="828.27" cy="653" r="3.3"/>
<circle cx="829.66" cy="667.4" r="3.3"/>
<circle cx="832.45" cy="681.8" r="3.3"/>
<circle cx="832.7" cy="696.2" r="3.3"/>
<circle cx="833.48" cy="710.6" r="3.3"/>
<circle cx="835.05" cy="725" r="3.3"/>
<circle cx="835.2" cy="739.4" r="3.3"/>
<circle cx="836.51" cy="753.8" r="3.3"/>
<circle cx="838.66" cy="768.2" r="3.3"/>
<circle cx="839.3" cy="782.6" r="3.3"/>
<circle cx="840.28" cy="797" r="3.3"/>
<circle cx="840.66" cy="811.4" r="3.3"/>
<circle cx="641.68" cy="26.68" r="3.3"/>
<circle cx="641.87" cy="41.08" r="3.3"/>
<circle cx="642.79" cy="55.48" r="3.3"/>
<circle cx="644.49" cy="69.88" r="3.3"/>
<circle cx="646.98" cy="84.28" r="3.3"/>
<circle cx="730.75" cy="228.28" r="3.3"/>
<circle cx="745.55" cy="242.68" r="3.3"/>
<circle cx="756.23" cy="257.08" r="3.3"/>
<circle cx="763.48" cy="271.48" r="3.3"/>
<circle cx="770.99" cy="285.88" r="3.3"/>
<circle cx="778.93" cy="300.28" r="3.3"/>
<circle cx="786.03" cy="314.68" r="3.3"/>
<circle cx="791.81" cy="329.08" r="3.3"/>
<circle cx="793.66" cy="343.48" r="3.3"/>
<circle cx="795.47" cy="357.88" r="3.3"/>
<circle cx="799.05" cy="372.28" r="3.3"/>
<circle cx="800.71" cy="386.68" r="3.3"/>
<circle cx="803.17" cy="401.08" r="3.3"/>
<circle cx="804.66" cy="415.48" r="3.3"/>
<circle cx="806.36" cy="429.88" r="3.3"/>
<circle cx="807.73" cy="444.28" r="3.3"/>
<circle cx="810.09" cy="458.68" r="3.3"/>
<circle cx="810.8" cy="473.08" r="3.3"/>
<circle cx="812.09" cy="487.48" r="3.3"/>
<circle cx="812.42" cy="501.88" r="3.3"/>
<circle cx="814.37" cy="516.28" r="3.3"/>
<circle cx="815.05" cy="530.41" r="3.3"/>
<circle cx="817.59" cy="544.5" r="3.3"/>
<circle cx="819.29" cy="558.58" r="3.3"/>
<circle cx="821.31" cy="572.78" r="3.3"/>
<circle cx="822.55" cy="587.18" r="3.3"/>
<circle cx="825.61" cy="601.58" r="3.3"/>
<circle cx="827.62" cy="615.98" r="3.3"/>
<circle cx="829.78" cy="630.38" r="3.3"/>
<circle cx="831.25" cy="644.78" r="3.3"/>
<circle cx="833.83" cy="659.18" r="3.3"/>
<circle cx="835.23" cy="673.58" r="3.3"/>
<circle cx="837.9" cy="687.98" r="3.3"/>
<circle cx="837.41" cy="702.38" r="3.3"/>
<circle cx="839.14" cy="716.78" r="3.3"/>
<circle cx="839.07" cy="731.18" r="3.3"/>
<circle cx="839.59" cy="745.58" r="3.3"/>
<circle cx="842.21" cy="759.98" r="3.3"/>
<circle cx="843.87" cy="774.38" r="3.3"/>
<circle cx="843.48" cy="788.78" r="3.3"/>
<circle cx="845.12" cy="803.18" r="3.3"/>
<circle cx="642.22" cy="32.86" r="3.3"/>
<circle cx="641.87" cy="47.26" r="3.3"/>
<circle cx="643.5" cy="61.66" r="3.3"/>
<circle cx="645.64" cy="76.06" r="3.3"/>
<circle cx="648.4" cy="90.46" r="3.3"/>
<circle cx="738.82" cy="234.46" r="3.3"/>
<circle cx="753.49" cy="248.86" r="3.3"/>
<circle cx="761.64" cy="263.26" r="3.3"/>
<circle cx="768.53" cy="277.66" r="3.3"/>
<circle cx="775.24" cy="292.06" r="3.3"/>
<circle cx="783.43" cy="306.46" r="3.3"/>
<circle cx="789.92" cy="320.86" r="3.3"/>
<circle cx="793.95" cy="335.26" r="3.3"/>
<circle cx="796" cy="349.66" r="3.3"/>
<circle cx="798.01" cy="364.06" r="3.3"/>
<circle cx="800.76" cy="378.46" r="3.3"/>
<circle cx="802.96" cy="392.86" r="3.3"/>
<circle cx="805.53" cy="407.26" r="3.3"/>
<circle cx="806.53" cy="421.66" r="3.3"/>
<circle cx="808.92" cy="436.06" r="3.3"/>
<circle cx="810.36" cy="450.46" r="3.3"/>
<circle cx="811.34" cy="464.86" r="3.3"/>
<circle cx="812.71" cy="479.26" r="3.3"/>
<circle cx="814.4" cy="493.66" r="3.3"/>
<circle cx="814.68" cy="508.06" r="3.3"/>
<circle cx="817.35" cy="522.37" r="3.3"/>
<circle cx="818.8" cy="536.46" r="3.3"/>
<circle cx="821.27" cy="550.54" r="3.3"/>
<circle cx="822.64" cy="564.62" r="3.3"/>
<circle cx="823.88" cy="578.96" r="3.3"/>
<circle cx="826.24" cy="593.36" r="3.3"/>
<circle cx="828.7" cy="607.76" r="3.3"/>
<circle cx="831.59" cy="622.16" r="3.3"/>
<circle cx="833.21" cy="636.56" r="3.3"/>
<circle cx="833.85" cy="650.96" r="3.3"/>
<circle cx="836.98" cy="665.36" r="3.3"/>
<circle cx="838.41" cy="679.76" r="3.3"/>
<circle cx="839.56" cy="694.16" r="3.3"/>
<circle cx="840.47" cy="708.56" r="3.3"/>
<circle cx="841.94" cy="722.96" r="3.3"/>
<circle cx="842.11" cy="737.36" r="3.3"/>
<circle cx="843.36" cy="751.76" r="3.3"/>
<circle cx="845.77" cy="766.16" r="3.3"/>
<circle cx="846.79" cy="780.56" r="3.3"/>
<circle cx="847.58" cy="794.96" r="3.3"/>
<circle cx="848.21" cy="809.36" r="3.3"/>
<circle cx="642.57" cy="24.62" r="3.3"/>
<circle cx="642.82" cy="39.02" r="3.3"/>
<circle cx="643.37" cy="53.42" r="3.3"/>
<circle cx="645.08" cy="67.82" r="3.3"/>
<circle cx="647.58" cy="82.22" r="3.3"/>
<circle cx="745.81" cy="240.62" r="3.3"/>
<circle cx="757.78" cy="255.02" r="3.3"/>
<circle cx="765.55" cy="269.42" r="3.3"/>
<circle cx="771.98" cy="283.82" r="3.3"/>
<circle cx="780.49" cy="298.22" r="3.3"/>
<circle cx="787.83" cy="312.62" r="3.3"/>
<circle cx="793.15" cy="327.02" r="3.3"/>
<circle cx="795.92" cy="341.42" r="3.3"/>
<circle cx="798.39" cy="355.82" r="3.3"/>
<circle cx="800.42" cy="370.22" r="3.3"/>
<circle cx="803" cy="384.62" r="3.3"/>
<circle cx="804.77" cy="399.02" r="3.3"/>
<circle cx="806.43" cy="413.42" r="3.3"/>
<circle cx="808.23" cy="427.82" r="3.3"/>
<circle cx="809.61" cy="442.22" r="3.3"/>
<circle cx="812.24" cy="456.62" r="3.3"/>
<circle cx="813.73" cy="471.02" r="3.3"/>
<circle cx="814.46" cy="485.42" r="3.3"/>
<circle cx="815.79" cy="499.82" r="3.3"/>
<circle cx="816.65" cy="514.22" r="3.3"/>
<circle cx="819.17" cy="528.4" r="3.3"/>
<circle cx="821.85" cy="542.48" r="3.3"/>
<circle cx="823.2" cy="556.56" r="3.3"/>
<circle cx="824.53" cy="570.72" r="3.3"/>
<circle cx="826.84" cy="585.12" r="3.3"/>
<circle cx="829.17" cy="599.52" r="3.3"/>
<circle cx="832.1" cy="613.92" r="3.3"/>
<circle cx="833.58" cy="628.32" r="3.3"/>
<circle cx="834.73" cy="642.72" r="3.3"/>
<circle cx="836.85" cy="657.12" r="3.3"/>
<circle cx="839.47" cy="671.52" r="3.3"/>
<circle cx="841.65" cy="685.92" r="3.3"/>
<circle cx="842.3" cy="700.32" r="3.3"/>
<circle cx="843.37" cy="714.72" r="3.3"/>
<circle cx="843.31" cy="729.12" r="3.3"/>
<circle cx="843.63" cy="743.52" r="3.3"/>
<circle cx="845.96" cy="757.92" r="3.3"/>
<circle cx="847.52" cy="772.32" r="3.3"/>
<circle cx="848.01" cy="786.72" r="3.3"/>
<circle cx="849.97" cy="801.12" r="3.3"/>
<circle cx="642.87" cy="30.8" r="3.3"/>
<circle cx="642.79" cy="45.2" r="3.3"/>
<circle cx="644.3" cy="59.6" r="3.3"/>
<circle cx="647" cy="74" r="3.3"/>
<circle cx="648.99" cy="88.4" r="3.3"/>
<circle cx="739.89" cy="232.4" r="3.3"/>
<circle cx="754.01" cy="246.8" r="3.3"/>
<circle cx="762.67" cy="261.2" r="3.3"/>
<circle cx="770.6" cy="275.6" r="3.3"/>
<circle cx="777.53" cy="290" r="3.3"/>
<circle cx="786.19" cy="304.4" r="3.3"/>
<circle cx="791.69" cy="318.8" r="3.3"/>
<circle cx="796.37" cy="333.2" r="3.3"/>
<circle cx="797.9" cy="347.6" r="3.3"/>
<circle cx="800.85" cy="362" r="3.3"/>
<circle cx="803.32" cy="376.4" r="3.3"/>
<circle cx="805.79" cy="390.8" r="3.3"/>
<circle cx="807.22" cy="405.2" r="3.3"/>
<circle cx="809.05" cy="419.6" r="3.3"/>
<circle cx="811.04" cy="434" r="3.3"/>
<circle cx="812.44" cy="448.4" r="3.3"/>
<circle cx="813.59" cy="462.8" r="3.3"/>
<circle cx="815.38" cy="477.2" r="3.3"/>
<circle cx="816.7" cy="491.6" r="3.3"/>
<circle cx="817.47" cy="506" r="3.3"/>
<circle cx="819.69" cy="520.36" r="3.3"/>
<circle cx="821.83" cy="534.44" r="3.3"/>
<circle cx="824.65" cy="548.52" r="3.3"/>
<circle cx="825.42" cy="562.61" r="3.3"/>
<circle cx="827.43" cy="576.9" r="3.3"/>
<circle cx="829.16" cy="591.3" r="3.3"/>
<circle cx="832.21" cy="605.7" r="3.3"/>
<circle cx="833.95" cy="620.1" r="3.3"/>
<circle cx="835.95" cy="634.5" r="3.3"/>
<circle cx="837.04" cy="648.9" r="3.3"/>
<circle cx="839.02" cy="663.3" r="3.3"/>
<circle cx="840.85" cy="677.7" r="3.3"/>
<circle cx="842.56" cy="692.1" r="3.3"/>
<circle cx="843.63" cy="706.5" r="3.3"/>
<circle cx="843.91" cy="720.9" r="3.3"/>
<circle cx="844.35" cy="735.3" r="3.3"/>
<circle cx="846.37" cy="749.7" r="3.3"/>
<circle cx="847.64" cy="764.1" r="3.3"/>
<circle cx="849.65" cy="778.5" r="3.3"/>
<circle cx="850.18" cy="792.9" r="3.3"/>
<circle cx="851.15" cy="807.3" r="3.3"/>
<circle cx="643.8" cy="22.56" r="3.3"/>
<circle cx="643.82" cy="36.96" r="3.3"/>
<circle cx="643.73" cy="51.36" r="3.3"/>
<circle cx="645.44" cy="65.76" r="3.3"/>
<circle cx="648.43" cy="80.16" r="3.3"/>
<circle cx="749.75" cy="238.56" r="3.3"/>
<circle cx="761.7" cy="252.96" r="3.3"/>
<circle cx="769.95" cy="267.36" r="3.3"/>
<circle cx="776.64" cy="281.76" r="3.3"/>
<circle cx="784.33" cy="296.16" r="3.3"/>
<circle cx="791.16" cy="310.56" r="3.3"/>
<circle cx="796.77" cy="324.96" r="3.3"/>
<circle cx="799.75" cy="339.36" r="3.3"/>
<circle cx="802.11" cy="353.76" r="3.3"/>
<circle cx="804.5" cy="368.16" r="3.3"/>
<circle cx="807.03" cy="382.56" r="3.3"/>
<circle cx="808.16" cy="396.96" r="3.3"/>
<circle cx="810.12" cy="411.36" r="3.3"/>
<circle cx="811.47" cy="425.76" r="3.3"/>
<circle cx="813.89" cy="440.16" r="3.3"/>
<circle cx="814.93" cy="454.56" r="3.3"/>
<circle cx="816.23" cy="468.96" r="3.3"/>
<circle cx="818.24" cy="483.36" r="3.3"/>
<circle cx="819.44" cy="497.76" r="3.3"/>
<circle cx="820.8" cy="512.16" r="3.3"/>
<circle cx="822.08" cy="526.38" r="3.3"/>
<circle cx="824.96" cy="540.47" r="3.3"/>
<circle cx="826.27" cy="554.55" r="3.3"/>
<circle cx="827.45" cy="568.66" r="3.3"/>
<circle cx="830.53" cy="583.06" r="3.3"/>
<circle cx="832.86" cy="597.46" r="3.3"/>
<circle cx="834.42" cy="611.86" r="3.3"/>
<circle cx="837.61" cy="626.26" r="3.3"/>
<circle cx="837.66" cy="640.66" r="3.3"/>
<circle cx="839.67" cy="655.06" r="3.3"/>
<circle cx="841.28" cy="669.46" r="3.3"/>
<circle cx="843.53" cy="683.86" r="3.3"/>
<circle cx="844.45" cy="698.26" r="3.3"/>
<circle cx="845.84" cy="712.66" r="3.3"/>
<circle cx="845.9" cy="727.06" r="3.3"/>
<circle cx="846.48" cy="741.46" r="3.3"/>
<circle cx="847.92" cy="755.86" r="3.3"/>
<circle cx="849.82" cy="770.26" r="3.3"/>
<circle cx="851.39" cy="784.66" r="3.3"/>
<circle cx="852.18" cy="799.06" r="3.3"/>
<circle cx="852.16" cy="813.46" r="3.3"/>
<circle cx="644.65" cy="28.74" r="3.3"/>
<circle cx="644.53" cy="43.14" r="3.3"/>
<circle cx="645.63" cy="57.54" r="3.3"/>
<circle cx="647.78" cy="71.94" r="3.3"/>
<circle cx="650.61" cy="86.34" r="3.3"/>
<circle cx="745.16" cy="230.34" r="3.3"/>
<circle cx="758.9" cy="244.74" r="3.3"/>
<circle cx="768.66" cy="259.14" r="3.3"/>
<circle cx="776.08" cy="273.54" r="3.3"/>
<circle cx="783.41" cy="287.94" r="3.3"/>
<circle cx="790.65" cy="302.34" r="3.3"/>
<circle cx="797.01" cy="316.74" r="3.3"/>
<circle cx="801.94" cy="331.14" r="3.3"/>
<circle cx="804.42" cy="345.54" r="3.3"/>
<circle cx="806.2" cy="359.94" r="3.3"/>
<circle cx="809.07" cy="374.34" r="3.3"/>
<circle cx="810.22" cy="388.74" r="3.3"/>
<circle cx="812.63" cy="403.14" r="3.3"/>
<circle cx="813.7" cy="417.54" r="3.3"/>
<circle cx="815.45" cy="431.94" r="3.3"/>
<circle cx="816.47" cy="446.34" r="3.3"/>
<circle cx="818.01" cy="460.74" r="3.3"/>
<circle cx="819.46" cy="475.14" r="3.3"/>
<circle cx="820.67" cy="489.54" r="3.3"/>
<circle cx="822.13" cy="503.94" r="3.3"/>
<circle cx="823.95" cy="518.34" r="3.3"/>
<circle cx="825.02" cy="532.43" r="3.3"/>
<circle cx="827.33" cy="546.51" r="3.3"/>
<circle cx="828.83" cy="560.59" r="3.3"/>
<circle cx="830.5" cy="574.84" r="3.3"/>
<circle cx="832.57" cy="589.24" r="3.3"/>
<circle cx="834.99" cy="603.64" r="3.3"/>
<circle cx="837.65" cy="618.04" r="3.3"/>
<circle cx="839.27" cy="632.44" r="3.3"/>
<circle cx="841.19" cy="646.84" r="3.3"/>
<circle cx="843.04" cy="661.24" r="3.3"/>
<circle cx="845.51" cy="675.64" r="3.3"/>
<circle cx="847.22" cy="690.04" r="3.3"/>
<circle cx="847.46" cy="704.44" r="3.3"/>
<circle cx="848.34" cy="718.84" r="3.3"/>
<circle cx="847.69" cy="733.24" r="3.3"/>
<circle cx="848.68" cy="747.64" r="3.3"/>
<circle cx="851.56" cy="762.04" r="3.3"/>
<circle cx="852.12" cy="776.44" r="3.3"/>
<circle cx="852.6" cy="790.84" r="3.3"/>
<circle cx="854.56" cy="805.24" r="3.3"/>
<circle cx="668.95" cy="92.28" r="3.3"/>
<circle cx="669.71" cy="103.38" r="3.3"/>
<circle cx="668.95" cy="114.33" r="3.3"/>
<circle cx="642.34" cy="101.4" r="3.3"/>
<circle cx="643.1" cy="114.33" r="3.3"/>
<circle cx="650.7" cy="118.13" r="3.3"/>
<circle cx="639.3" cy="122.69" r="3.3"/>
<circle cx="662.86" cy="130.29" r="3.3"/>
<circle cx="640.06" cy="134.85" r="3.3"/>
<circle cx="646.14" cy="138.96" r="3.3"/>
<circle cx="662.86" cy="139.41" r="3.3"/>
<circle cx="648.42" cy="148.54" r="3.3"/>
<circle cx="664.38" cy="148.54" r="3.3"/>
<circle cx="636.26" cy="155.68" r="3.3"/>
<circle cx="671.99" cy="152.34" r="3.3"/>
<circle cx="669.71" cy="155.38" r="3.3"/>
<circle cx="659.82" cy="157.66" r="3.3"/>
<circle cx="678.83" cy="159.18" r="3.3"/>
<circle cx="690.99" cy="164.2" r="3.3"/>
<circle cx="654.5" cy="167.54" r="3.3"/>
<circle cx="671.23" cy="168.3" r="3.3"/>
<circle cx="686.43" cy="168.3" r="3.3"/>
<circle cx="674.27" cy="179.4" r="3.3"/>
<circle cx="695.55" cy="176.67" r="3.3"/>
<circle cx="687.19" cy="181.23" r="3.3"/>
<circle cx="692.51" cy="190.35" r="3.3"/>
<circle cx="701.64" cy="193.39" r="3.3"/>
<circle cx="710" cy="203.27" r="3.3"/>
<circle cx="712.28" cy="193.39" r="3.3"/>
<circle cx="718.36" cy="213.92" r="3.3"/>
<circle cx="726.72" cy="223.8" r="3.3"/>
<circle cx="667.64" cy="81.47" r="3.3"/>
<circle cx="667.1" cy="86.82" r="3.3"/>
<circle cx="668.71" cy="92.71" r="3.3"/>
<circle cx="669.78" cy="103.42" r="3.3"/>
<circle cx="663.89" cy="71.83" r="3.3"/>
<circle cx="641.94" cy="108.24" r="3.3"/>
</g>
<polyline points="642,28.5 642,48.5 644.6,68.5 648.4,88.5 652.2,108.5 654.5,128.5 657.5,148.5 676.5,168.5 699.7,188.5 719.9,208.5 734,228.5 753.8,248.5 765,268.5 775,288.5 785.7,308.5 793.3,328.5 796.5,348.5 800.1,368.5 803.2,388.5 806.5,408.5 808.5,428.5 810.5,448.5 813.3,468.5 814.6,488.5 816.4,508.5 819.1,528.28 822.5,547.84 824.4,567.4 827.3,587.4 830.8,607.4 834,627.4 835.7,647.4 838.6,667.4 841.5,687.4 842.4,707.4 843.4,727.4 844.5,747.4 847.3,767.4 848.5,787.4 850.3,807.4" fill="none" stroke="#0000ff" stroke-width="2.8" stroke-linejoin="round" stroke-linecap="butt"/>
<g fill="#0000ff">
<circle cx="642" cy="28.5" r="5.85"/>
<circle cx="642" cy="48.5" r="5.85"/>
<circle cx="644.6" cy="68.5" r="5.85"/>
<circle cx="648.4" cy="88.5" r="5.85"/>
<circle cx="652.2" cy="108.5" r="5.85"/>
<circle cx="654.5" cy="128.5" r="5.85"/>
<circle cx="657.5" cy="148.5" r="5.85"/>
<circle cx="676.5" cy="168.5" r="5.85"/>
<circle cx="699.7" cy="188.5" r="5.85"/>
<circle cx="719.9" cy="208.5" r="5.85"/>
<circle cx="734" cy="228.5" r="5.85"/>
<circle cx="753.8" cy="248.5" r="5.85"/>
<circle cx="765" cy="268.5" r="5.85"/>
<circle cx="775" cy="288.5" r="5.85"/>
<circle cx="785.7" cy="308.5" r="5.85"/>
<circle cx="793.3" cy="328.5" r="5.85"/>
<circle cx="796.5" cy="348.5" r="5.85"/>
<circle cx="800.1" cy="368.5" r="5.85"/>
<circle cx="803.2" cy="388.5" r="5.85"/>
<circle cx="806.5" cy="408.5" r="5.85"/>
<circle cx="808.5" cy="428.5" r="5.85"/>
<circle cx="810.5" cy="448.5" r="5.85"/>
<circle cx="813.3" cy="468.5" r="5.85"/>
<circle cx="814.6" cy="488.5" r="5.85"/>
<circle cx="816.4" cy="508.5" r="5.85"/>
<circle cx="819.1" cy="528.28" r="5.85"/>
<circle cx="822.5" cy="547.84" r="5.85"/>
<circle cx="824.4" cy="567.4" r="5.85"/>
<circle cx="827.3" cy="587.4" r="5.85"/>
<circle cx="830.8" cy="607.4" r="5.85"/>
<circle cx="834" cy="627.4" r="5.85"/>
<circle cx="835.7" cy="647.4" r="5.85"/>
<circle cx="838.6" cy="667.4" r="5.85"/>
<circle cx="841.5" cy="687.4" r="5.85"/>
<circle cx="842.4" cy="707.4" r="5.85"/>
<circle cx="843.4" cy="727.4" r="5.85"/>
<circle cx="844.5" cy="747.4" r="5.85"/>
<circle cx="847.3" cy="767.4" r="5.85"/>
<circle cx="848.5" cy="787.4" r="5.85"/>
<circle cx="850.3" cy="807.4" r="5.85"/>
</g>
<polyline points="706.1,18.5 706.09,22.5 706.08,26.5 706.06,30.5 706.05,34.5 706.04,38.5 706.03,42.5 706.01,48.5 705.98,58.5 705.94,68.5 705.91,78.5 705.88,88.5 705.85,98.5 705.82,108.5 705.79,118.5 704.97,138.5 707.74,158.5 713.72,178.5 723.2,198.5 734,218.5 760.6,268.5 793.3,318.5 818,418.5 833.2,518.5 845.83,617.4 851.37,717.4 855.4,817.4" fill="none" stroke="#ff0000" stroke-width="2.8" stroke-linejoin="round" stroke-linecap="butt"/>
<polyline points="707.8,18.5 707.79,22.5 707.78,26.5 707.78,30.5 707.77,34.5 707.76,38.5 707.75,42.5 707.74,48.5 707.72,58.5 707.7,68.5 707.68,78.5 707.66,88.5 707.64,98.5 707.62,108.5 707.6,118.5 706.8,138.5 709.6,158.5 715.6,178.5 725.1,198.5 738.6,218.5 765.6,268.5 794.5,318.5 819.3,418.5 834.9,518.5 847.6,617.4 853.2,717.4 857.3,817.4" fill="none" stroke="#ff0000" stroke-width="2.8" stroke-linejoin="round" stroke-linecap="butt"/>
<polyline points="709.6,18.5 709.59,22.5 709.58,26.5 709.58,30.5 709.57,34.5 709.56,38.5 709.55,42.5 709.54,48.5 709.52,58.5 709.5,68.5 709.48,78.5 709.46,88.5 709.44,98.5 709.42,108.5 709.4,118.5 708.6,138.5 711.4,158.5 717.4,178.5 726.9,198.5 740.4,218.5 767.4,268.5 795.5,318.5 820.6,418.5 836.7,518.5 849.4,617.4 855,717.4 859.1,817.4" fill="none" stroke="#ff0000" stroke-width="2.8" stroke-linejoin="round" stroke-linecap="butt"/>
<polyline points="711.3,18.5 711.3,22.5 711.29,26.5 711.29,30.5 711.29,34.5 711.28,38.5 711.28,42.5 711.27,48.5 711.26,58.5 711.26,68.5 711.25,78.5 711.24,88.5 711.23,98.5 711.22,108.5 711.21,118.5 710.43,138.5 713.26,158.5 719.28,178.5 728.8,198.5 742.4,218.5 769.4,268.5 796.7,318.5 822,418.5 838.4,518.5 851.17,617.4 856.83,717.4 861,817.4" fill="none" stroke="#ff0000" stroke-width="2.8" stroke-linejoin="round" stroke-linecap="butt"/>
<g fill="#ff0000">
<circle cx="708.7" cy="18.5" r="5.85"/>
<circle cx="708.69" cy="22.5" r="5.85"/>
<circle cx="708.68" cy="26.5" r="5.85"/>
<circle cx="708.68" cy="30.5" r="5.85"/>
<circle cx="708.67" cy="34.5" r="5.85"/>
<circle cx="708.66" cy="38.5" r="5.85"/>
<circle cx="708.65" cy="42.5" r="5.85"/>
<circle cx="708.64" cy="48.5" r="5.85"/>
<circle cx="708.62" cy="58.5" r="5.85"/>
<circle cx="708.6" cy="68.5" r="5.85"/>
<circle cx="708.58" cy="78.5" r="5.85"/>
<circle cx="708.56" cy="88.5" r="5.85"/>
<circle cx="708.54" cy="98.5" r="5.85"/>
<circle cx="708.52" cy="108.5" r="5.85"/>
<circle cx="708.5" cy="118.5" r="5.85"/>
<circle cx="707.7" cy="138.5" r="5.85"/>
<circle cx="710.5" cy="158.5" r="5.85"/>
<circle cx="716.5" cy="178.5" r="5.85"/>
<circle cx="726" cy="198.5" r="5.85"/>
<circle cx="739" cy="218.5" r="5.85"/>
<circle cx="766" cy="268.5" r="5.85"/>
<circle cx="794.1" cy="318.5" r="5.85"/>
<circle cx="819.6" cy="418.5" r="5.85"/>
<circle cx="835.8" cy="518.5" r="5.85"/>
<circle cx="848.5" cy="617.4" r="5.85"/>
<circle cx="854.1" cy="717.4" r="5.85"/>
<circle cx="858.2" cy="817.4" r="5.85"/>
</g>
<polyline points="659.6,18.5 659.6,22.5 659.6,26.5 659.6,30.5 659.6,34.5 659.6,38.5 659.6,42.5 659.6,48.5 659.6,58.5 659.6,68.5 659.6,78.5 660.1,88.5 660.6,98.5 662.6,108.5 665.4,118.5 672.4,138.5 684.6,158.5 700.4,178.5 716.5,198.5 731.7,218.5 757.3,268.5 786.5,318.5 804.4,418.5 818.4,518.5 828.4,617.4 836.2,717.4 842.6,817.4" fill="none" stroke="#008000" stroke-width="2.8" stroke-linejoin="round" stroke-linecap="butt"/>
<g fill="#008000">
<circle cx="659.6" cy="18.5" r="5.85"/>
<circle cx="659.6" cy="22.5" r="5.85"/>
<circle cx="659.6" cy="26.5" r="5.85"/>
<circle cx="659.6" cy="30.5" r="5.85"/>
<circle cx="659.6" cy="34.5" r="5.85"/>
<circle cx="659.6" cy="38.5" r="5.85"/>
<circle cx="659.6" cy="42.5" r="5.85"/>
<circle cx="659.6" cy="48.5" r="5.85"/>
<circle cx="659.6" cy="58.5" r="5.85"/>
<circle cx="659.6" cy="68.5" r="5.85"/>
<circle cx="659.6" cy="78.5" r="5.85"/>
<circle cx="660.1" cy="88.5" r="5.85"/>
<circle cx="660.6" cy="98.5" r="5.85"/>
<circle cx="662.6" cy="108.5" r="5.85"/>
<circle cx="665.4" cy="118.5" r="5.85"/>
<circle cx="672.4" cy="138.5" r="5.85"/>
<circle cx="684.6" cy="158.5" r="5.85"/>
<circle cx="700.4" cy="178.5" r="5.85"/>
<circle cx="716.5" cy="198.5" r="5.85"/>
<circle cx="731.7" cy="218.5" r="5.85"/>
<circle cx="757.3" cy="268.5" r="5.85"/>
<circle cx="786.5" cy="318.5" r="5.85"/>
<circle cx="804.4" cy="418.5" r="5.85"/>
<circle cx="818.4" cy="518.5" r="5.85"/>
<circle cx="828.4" cy="617.4" r="5.85"/>
<circle cx="836.2" cy="717.4" r="5.85"/>
<circle cx="842.6" cy="817.4" r="5.85"/>
</g>
<polyline points="637.1,19.49 637.1,21.58 637.1,23.79 637.1,26.14 637.1,28.66 637.1,31.38 637.1,34.36 637.1,37.65 637.1,41.31 637.1,45.43 637.1,50.12 637.1,55.49 637.1,61.7 637.1,68.92 637.1,77.39 637.1,87.37 637.3,99.19 633.3,113.25 633.2,130.03 642.3,150.11 659.4,174.21 684.5,203.15 716.5,237.96 750.3,279.83 783.4,330.2 809.5,390.75 825.5,463.45 834.3,549.87 842.6,653.65 851.4,777.83" fill="none" stroke="#ff00ff" stroke-width="2.8" stroke-linejoin="round" stroke-linecap="butt"/>
<g fill="#ff00ff">
<circle cx="637.1" cy="19.49" r="5.85"/>
<circle cx="637.1" cy="21.58" r="5.85"/>
<circle cx="637.1" cy="23.79" r="5.85"/>
<circle cx="637.1" cy="26.14" r="5.85"/>
<circle cx="637.1" cy="28.66" r="5.85"/>
<circle cx="637.1" cy="31.38" r="5.85"/>
<circle cx="637.1" cy="34.36" r="5.85"/>
<circle cx="637.1" cy="37.65" r="5.85"/>
<circle cx="637.1" cy="41.31" r="5.85"/>
<circle cx="637.1" cy="45.43" r="5.85"/>
<circle cx="637.1" cy="50.12" r="5.85"/>
<circle cx="637.1" cy="55.49" r="5.85"/>
<circle cx="637.1" cy="61.7" r="5.85"/>
<circle cx="637.1" cy="68.92" r="5.85"/>
<circle cx="637.1" cy="77.39" r="5.85"/>
<circle cx="637.1" cy="87.37" r="5.85"/>
<circle cx="637.3" cy="99.19" r="5.85"/>
<circle cx="633.3" cy="113.25" r="5.85"/>
<circle cx="633.2" cy="130.03" r="5.85"/>
<circle cx="642.3" cy="150.11" r="5.85"/>
<circle cx="659.4" cy="174.21" r="5.85"/>
<circle cx="684.5" cy="203.15" r="5.85"/>
<circle cx="716.5" cy="237.96" r="5.85"/>
<circle cx="750.3" cy="279.83" r="5.85"/>
<circle cx="783.4" cy="330.2" r="5.85"/>
<circle cx="809.5" cy="390.75" r="5.85"/>
<circle cx="825.5" cy="463.45" r="5.85"/>
<circle cx="834.3" cy="549.87" r="5.85"/>
<circle cx="842.6" cy="653.65" r="5.85"/>
<circle cx="851.4" cy="777.83" r="5.85"/>
</g>
</g>
<rect x="580.6" y="19.45" width="402" height="795" fill="none" stroke="#000" stroke-width="1.3"/>
<g stroke="#000" stroke-width="1.3">
<line x1="592.5" y1="814.45" x2="592.5" y2="820.45"/>
<line x1="698.4" y1="814.45" x2="698.4" y2="820.45"/>
<line x1="805.5" y1="814.45" x2="805.5" y2="820.45"/>
<line x1="911.4" y1="814.45" x2="911.4" y2="820.45"/>
<line x1="580.6" y1="19.45" x2="574.6" y2="19.45"/>
<line x1="580.6" y1="68.5" x2="574.6" y2="68.5"/>
<line x1="580.6" y1="118.5" x2="574.6" y2="118.5"/>
<line x1="580.6" y1="168.5" x2="574.6" y2="168.5"/>
<line x1="580.6" y1="218.5" x2="574.6" y2="218.5"/>
<line x1="580.6" y1="268.5" x2="574.6" y2="268.5"/>
<line x1="580.6" y1="318.5" x2="574.6" y2="318.5"/>
<line x1="580.6" y1="368.5" x2="574.6" y2="368.5"/>
<line x1="580.6" y1="418.5" x2="574.6" y2="418.5"/>
<line x1="580.6" y1="468.5" x2="574.6" y2="468.5"/>
<line x1="580.6" y1="518.5" x2="574.6" y2="518.5"/>
<line x1="580.6" y1="567.4" x2="574.6" y2="567.4"/>
<line x1="580.6" y1="617.4" x2="574.6" y2="617.4"/>
<line x1="580.6" y1="667.4" x2="574.6" y2="667.4"/>
<line x1="580.6" y1="717.4" x2="574.6" y2="717.4"/>
<line x1="580.6" y1="767.4" x2="574.6" y2="767.4"/>
</g>
<g font-size="16.67" fill="#000">
<text x="591.6" y="841.5" text-anchor="middle">33.0</text>
<text x="697.5" y="841.5" text-anchor="middle">33.5</text>
<text x="804.6" y="841.5" text-anchor="middle">34.0</text>
<text x="910.5" y="841.5" text-anchor="middle">34.5</text>
</g>
<clipPath id="cD"><rect x="1072.6" y="19.45" width="402" height="795"/></clipPath>
<g stroke="#b0b0b0" stroke-width="0.9" stroke-dasharray="3.2 1.4" fill="none">
<line x1="1140.4" y1="814.45" x2="1140.4" y2="19.45"/>
<line x1="1213.5" y1="814.45" x2="1213.5" y2="19.45"/>
<line x1="1286.5" y1="814.45" x2="1286.5" y2="19.45"/>
<line x1="1360.3" y1="814.45" x2="1360.3" y2="19.45"/>
<line x1="1433.5" y1="814.45" x2="1433.5" y2="19.45"/>
<line x1="1072.6" y1="68.5" x2="1474.6" y2="68.5"/>
<line x1="1072.6" y1="118.5" x2="1474.6" y2="118.5"/>
<line x1="1072.6" y1="168.5" x2="1474.6" y2="168.5"/>
<line x1="1072.6" y1="218.5" x2="1474.6" y2="218.5"/>
<line x1="1072.6" y1="268.5" x2="1474.6" y2="268.5"/>
<line x1="1072.6" y1="318.5" x2="1474.6" y2="318.5"/>
<line x1="1072.6" y1="368.5" x2="1474.6" y2="368.5"/>
<line x1="1072.6" y1="418.5" x2="1474.6" y2="418.5"/>
<line x1="1072.6" y1="468.5" x2="1474.6" y2="468.5"/>
<line x1="1072.6" y1="518.5" x2="1474.6" y2="518.5"/>
<line x1="1072.6" y1="567.4" x2="1474.6" y2="567.4"/>
<line x1="1072.6" y1="617.4" x2="1474.6" y2="617.4"/>
<line x1="1072.6" y1="667.4" x2="1474.6" y2="667.4"/>
<line x1="1072.6" y1="717.4" x2="1474.6" y2="717.4"/>
<line x1="1072.6" y1="767.4" x2="1474.6" y2="767.4"/>
</g>
<g clip-path="url(#cD)">
<g fill="#00ffff">
<circle cx="1090.31" cy="20.5" r="3.3"/>
<circle cx="1090.97" cy="34.9" r="3.3"/>
<circle cx="1091.75" cy="49.3" r="3.3"/>
<circle cx="1093.68" cy="63.7" r="3.3"/>
<circle cx="1095.67" cy="78.1" r="3.3"/>
<circle cx="1098.98" cy="92.5" r="3.3"/>
<circle cx="1146.06" cy="207.7" r="3.3"/>
<circle cx="1150.22" cy="222.1" r="3.3"/>
<circle cx="1154.77" cy="236.5" r="3.3"/>
<circle cx="1157.58" cy="250.9" r="3.3"/>
<circle cx="1161.74" cy="265.3" r="3.3"/>
<circle cx="1164.62" cy="279.7" r="3.3"/>
<circle cx="1167.75" cy="294.1" r="3.3"/>
<circle cx="1170.6" cy="308.5" r="3.3"/>
<circle cx="1174.27" cy="322.9" r="3.3"/>
<circle cx="1177" cy="337.3" r="3.3"/>
<circle cx="1179.06" cy="351.7" r="3.3"/>
<circle cx="1181.88" cy="366.1" r="3.3"/>
<circle cx="1183.43" cy="380.5" r="3.3"/>
<circle cx="1186.44" cy="394.9" r="3.3"/>
<circle cx="1188.81" cy="409.3" r="3.3"/>
<circle cx="1190.17" cy="423.7" r="3.3"/>
<circle cx="1192.1" cy="438.1" r="3.3"/>
<circle cx="1194.14" cy="452.5" r="3.3"/>
<circle cx="1196.59" cy="466.9" r="3.3"/>
<circle cx="1198.28" cy="481.3" r="3.3"/>
<circle cx="1199.36" cy="495.7" r="3.3"/>
<circle cx="1201.95" cy="510.1" r="3.3"/>
<circle cx="1202.88" cy="524.37" r="3.3"/>
<circle cx="1205.27" cy="538.45" r="3.3"/>
<circle cx="1207.02" cy="552.53" r="3.3"/>
<circle cx="1208.41" cy="566.62" r="3.3"/>
<circle cx="1209.97" cy="581" r="3.3"/>
<circle cx="1211.6" cy="595.4" r="3.3"/>
<circle cx="1213.04" cy="609.8" r="3.3"/>
<circle cx="1215.14" cy="624.2" r="3.3"/>
<circle cx="1217.71" cy="638.6" r="3.3"/>
<circle cx="1219.05" cy="653" r="3.3"/>
<circle cx="1220.68" cy="667.4" r="3.3"/>
<circle cx="1222.28" cy="681.8" r="3.3"/>
<circle cx="1223.89" cy="696.2" r="3.3"/>
<circle cx="1225.74" cy="710.6" r="3.3"/>
<circle cx="1226.17" cy="725" r="3.3"/>
<circle cx="1228.95" cy="739.4" r="3.3"/>
<circle cx="1230.4" cy="753.8" r="3.3"/>
<circle cx="1231.33" cy="768.2" r="3.3"/>
<circle cx="1232.8" cy="782.6" r="3.3"/>
<circle cx="1234.69" cy="797" r="3.3"/>
<circle cx="1235.35" cy="811.4" r="3.3"/>
<circle cx="1091.47" cy="26.68" r="3.3"/>
<circle cx="1092.21" cy="41.08" r="3.3"/>
<circle cx="1093.29" cy="55.48" r="3.3"/>
<circle cx="1094.98" cy="69.88" r="3.3"/>
<circle cx="1098.15" cy="84.28" r="3.3"/>
<circle cx="1144.68" cy="199.48" r="3.3"/>
<circle cx="1148.94" cy="213.88" r="3.3"/>
<circle cx="1152.91" cy="228.28" r="3.3"/>
<circle cx="1156.83" cy="242.68" r="3.3"/>
<circle cx="1160.05" cy="257.08" r="3.3"/>
<circle cx="1164.38" cy="271.48" r="3.3"/>
<circle cx="1168.05" cy="285.88" r="3.3"/>
<circle cx="1170.02" cy="300.28" r="3.3"/>
<circle cx="1173.34" cy="314.68" r="3.3"/>
<circle cx="1176.73" cy="329.08" r="3.3"/>
<circle cx="1178.51" cy="343.48" r="3.3"/>
<circle cx="1181.29" cy="357.88" r="3.3"/>
<circle cx="1184.44" cy="372.28" r="3.3"/>
<circle cx="1186.07" cy="386.68" r="3.3"/>
<circle cx="1188.2" cy="401.08" r="3.3"/>
<circle cx="1189.49" cy="415.48" r="3.3"/>
<circle cx="1191.29" cy="429.88" r="3.3"/>
<circle cx="1194.08" cy="444.28" r="3.3"/>
<circle cx="1196.27" cy="458.68" r="3.3"/>
<circle cx="1198.22" cy="473.08" r="3.3"/>
<circle cx="1199.25" cy="487.48" r="3.3"/>
<circle cx="1201.97" cy="501.88" r="3.3"/>
<circle cx="1202.9" cy="516.28" r="3.3"/>
<circle cx="1204.94" cy="530.41" r="3.3"/>
<circle cx="1206.36" cy="544.5" r="3.3"/>
<circle cx="1209.27" cy="558.58" r="3.3"/>
<circle cx="1210.36" cy="572.78" r="3.3"/>
<circle cx="1212.19" cy="587.18" r="3.3"/>
<circle cx="1212.91" cy="601.58" r="3.3"/>
<circle cx="1215.48" cy="615.98" r="3.3"/>
<circle cx="1217.6" cy="630.38" r="3.3"/>
<circle cx="1218.98" cy="644.78" r="3.3"/>
<circle cx="1220.02" cy="659.18" r="3.3"/>
<circle cx="1222.18" cy="673.58" r="3.3"/>
<circle cx="1223.64" cy="687.98" r="3.3"/>
<circle cx="1225.24" cy="702.38" r="3.3"/>
<circle cx="1226.47" cy="716.78" r="3.3"/>
<circle cx="1228.72" cy="731.18" r="3.3"/>
<circle cx="1230.08" cy="745.58" r="3.3"/>
<circle cx="1231.65" cy="759.98" r="3.3"/>
<circle cx="1232.79" cy="774.38" r="3.3"/>
<circle cx="1235.04" cy="788.78" r="3.3"/>
<circle cx="1236.36" cy="803.18" r="3.3"/>
<circle cx="1092.75" cy="32.86" r="3.3"/>
<circle cx="1093.07" cy="47.26" r="3.3"/>
<circle cx="1095.1" cy="61.66" r="3.3"/>
<circle cx="1097.39" cy="76.06" r="3.3"/>
<circle cx="1100.26" cy="90.46" r="3.3"/>
<circle cx="1146.8" cy="205.66" r="3.3"/>
<circle cx="1152.29" cy="220.06" r="3.3"/>
<circle cx="1154.95" cy="234.46" r="3.3"/>
<circle cx="1158.87" cy="248.86" r="3.3"/>
<circle cx="1162.43" cy="263.26" r="3.3"/>
<circle cx="1166.26" cy="277.66" r="3.3"/>
<circle cx="1168.63" cy="292.06" r="3.3"/>
<circle cx="1171.84" cy="306.46" r="3.3"/>
<circle cx="1174.73" cy="320.86" r="3.3"/>
<circle cx="1178.45" cy="335.26" r="3.3"/>
<circle cx="1180.27" cy="349.66" r="3.3"/>
<circle cx="1183.17" cy="364.06" r="3.3"/>
<circle cx="1185.25" cy="378.46" r="3.3"/>
<circle cx="1187.78" cy="392.86" r="3.3"/>
<circle cx="1189.67" cy="407.26" r="3.3"/>
<circle cx="1191.07" cy="421.66" r="3.3"/>
<circle cx="1193.13" cy="436.06" r="3.3"/>
<circle cx="1194.77" cy="450.46" r="3.3"/>
<circle cx="1196.56" cy="464.86" r="3.3"/>
<circle cx="1199.16" cy="479.26" r="3.3"/>
<circle cx="1201.58" cy="493.66" r="3.3"/>
<circle cx="1203.14" cy="508.06" r="3.3"/>
<circle cx="1203.92" cy="522.37" r="3.3"/>
<circle cx="1206.41" cy="536.46" r="3.3"/>
<circle cx="1208.75" cy="550.54" r="3.3"/>
<circle cx="1209.51" cy="564.62" r="3.3"/>
<circle cx="1211.61" cy="578.96" r="3.3"/>
<circle cx="1212.85" cy="593.36" r="3.3"/>
<circle cx="1214.16" cy="607.76" r="3.3"/>
<circle cx="1216.6" cy="622.16" r="3.3"/>
<circle cx="1218.22" cy="636.56" r="3.3"/>
<circle cx="1219.79" cy="650.96" r="3.3"/>
<circle cx="1220.72" cy="665.36" r="3.3"/>
<circle cx="1223.15" cy="679.76" r="3.3"/>
<circle cx="1224.56" cy="694.16" r="3.3"/>
<circle cx="1227.13" cy="708.56" r="3.3"/>
<circle cx="1228.2" cy="722.96" r="3.3"/>
<circle cx="1229.26" cy="737.36" r="3.3"/>
<circle cx="1232.24" cy="751.76" r="3.3"/>
<circle cx="1232.72" cy="766.16" r="3.3"/>
<circle cx="1234.55" cy="780.56" r="3.3"/>
<circle cx="1236.09" cy="794.96" r="3.3"/>
<circle cx="1237.03" cy="809.36" r="3.3"/>
<circle cx="1092.83" cy="24.62" r="3.3"/>
<circle cx="1093.47" cy="39.02" r="3.3"/>
<circle cx="1094.32" cy="53.42" r="3.3"/>
<circle cx="1096.71" cy="67.82" r="3.3"/>
<circle cx="1098.93" cy="82.22" r="3.3"/>
<circle cx="1145.87" cy="197.42" r="3.3"/>
<circle cx="1149.34" cy="211.82" r="3.3"/>
<circle cx="1153.49" cy="226.22" r="3.3"/>
<circle cx="1157.33" cy="240.62" r="3.3"/>
<circle cx="1160.48" cy="255.02" r="3.3"/>
<circle cx="1164.19" cy="269.42" r="3.3"/>
<circle cx="1167.75" cy="283.82" r="3.3"/>
<circle cx="1170.72" cy="298.22" r="3.3"/>
<circle cx="1174.11" cy="312.62" r="3.3"/>
<circle cx="1177.37" cy="327.02" r="3.3"/>
<circle cx="1179.07" cy="341.42" r="3.3"/>
<circle cx="1182.49" cy="355.82" r="3.3"/>
<circle cx="1184.27" cy="370.22" r="3.3"/>
<circle cx="1186.8" cy="384.62" r="3.3"/>
<circle cx="1188.39" cy="399.02" r="3.3"/>
<circle cx="1191.32" cy="413.42" r="3.3"/>
<circle cx="1192.2" cy="427.82" r="3.3"/>
<circle cx="1193.73" cy="442.22" r="3.3"/>
<circle cx="1195.72" cy="456.62" r="3.3"/>
<circle cx="1198.17" cy="471.02" r="3.3"/>
<circle cx="1200.91" cy="485.42" r="3.3"/>
<circle cx="1201.72" cy="499.82" r="3.3"/>
<circle cx="1203.84" cy="514.22" r="3.3"/>
<circle cx="1205.14" cy="528.4" r="3.3"/>
<circle cx="1207.33" cy="542.48" r="3.3"/>
<circle cx="1209.8" cy="556.56" r="3.3"/>
<circle cx="1210.58" cy="570.72" r="3.3"/>
<circle cx="1212.94" cy="585.12" r="3.3"/>
<circle cx="1214.35" cy="599.52" r="3.3"/>
<circle cx="1216.59" cy="613.92" r="3.3"/>
<circle cx="1218.32" cy="628.32" r="3.3"/>
<circle cx="1220.24" cy="642.72" r="3.3"/>
<circle cx="1220.94" cy="657.12" r="3.3"/>
<circle cx="1222.68" cy="671.52" r="3.3"/>
<circle cx="1224.76" cy="685.92" r="3.3"/>
<circle cx="1226.76" cy="700.32" r="3.3"/>
<circle cx="1228.32" cy="714.72" r="3.3"/>
<circle cx="1228.62" cy="729.12" r="3.3"/>
<circle cx="1230.81" cy="743.52" r="3.3"/>
<circle cx="1232.89" cy="757.92" r="3.3"/>
<circle cx="1234.63" cy="772.32" r="3.3"/>
<circle cx="1235.68" cy="786.72" r="3.3"/>
<circle cx="1236.79" cy="801.12" r="3.3"/>
<circle cx="1093.98" cy="30.8" r="3.3"/>
<circle cx="1094.17" cy="45.2" r="3.3"/>
<circle cx="1095.56" cy="59.6" r="3.3"/>
<circle cx="1097.74" cy="74" r="3.3"/>
<circle cx="1100.6" cy="88.4" r="3.3"/>
<circle cx="1148.25" cy="203.6" r="3.3"/>
<circle cx="1151.53" cy="218" r="3.3"/>
<circle cx="1156.32" cy="232.4" r="3.3"/>
<circle cx="1160.2" cy="246.8" r="3.3"/>
<circle cx="1163.99" cy="261.2" r="3.3"/>
<circle cx="1167.14" cy="275.6" r="3.3"/>
<circle cx="1169.78" cy="290" r="3.3"/>
<circle cx="1172.72" cy="304.4" r="3.3"/>
<circle cx="1175.99" cy="318.8" r="3.3"/>
<circle cx="1178.9" cy="333.2" r="3.3"/>
<circle cx="1181.32" cy="347.6" r="3.3"/>
<circle cx="1184.47" cy="362" r="3.3"/>
<circle cx="1185.52" cy="376.4" r="3.3"/>
<circle cx="1187.53" cy="390.8" r="3.3"/>
<circle cx="1191.02" cy="405.2" r="3.3"/>
<circle cx="1191.91" cy="419.6" r="3.3"/>
<circle cx="1193.29" cy="434" r="3.3"/>
<circle cx="1196.18" cy="448.4" r="3.3"/>
<circle cx="1197.87" cy="462.8" r="3.3"/>
<circle cx="1199.23" cy="477.2" r="3.3"/>
<circle cx="1201.12" cy="491.6" r="3.3"/>
<circle cx="1203.24" cy="506" r="3.3"/>
<circle cx="1204.84" cy="520.36" r="3.3"/>
<circle cx="1207.47" cy="534.44" r="3.3"/>
<circle cx="1208.7" cy="548.52" r="3.3"/>
<circle cx="1211.13" cy="562.61" r="3.3"/>
<circle cx="1212.77" cy="576.9" r="3.3"/>
<circle cx="1213.75" cy="591.3" r="3.3"/>
<circle cx="1216" cy="605.7" r="3.3"/>
<circle cx="1217.94" cy="620.1" r="3.3"/>
<circle cx="1219.42" cy="634.5" r="3.3"/>
<circle cx="1220.48" cy="648.9" r="3.3"/>
<circle cx="1222.12" cy="663.3" r="3.3"/>
<circle cx="1224.57" cy="677.7" r="3.3"/>
<circle cx="1225.96" cy="692.1" r="3.3"/>
<circle cx="1227.13" cy="706.5" r="3.3"/>
<circle cx="1228.7" cy="720.9" r="3.3"/>
<circle cx="1230.61" cy="735.3" r="3.3"/>
<circle cx="1232.23" cy="749.7" r="3.3"/>
<circle cx="1234.06" cy="764.1" r="3.3"/>
<circle cx="1234.71" cy="778.5" r="3.3"/>
<circle cx="1237.25" cy="792.9" r="3.3"/>
<circle cx="1237.79" cy="807.3" r="3.3"/>
<circle cx="1093.68" cy="22.56" r="3.3"/>
<circle cx="1094.49" cy="36.96" r="3.3"/>
<circle cx="1095.2" cy="51.36" r="3.3"/>
<circle cx="1097.47" cy="65.76" r="3.3"/>
<circle cx="1099.83" cy="80.16" r="3.3"/>
<circle cx="1146.32" cy="195.36" r="3.3"/>
<circle cx="1151.11" cy="209.76" r="3.3"/>
<circle cx="1154.27" cy="224.16" r="3.3"/>
<circle cx="1158.79" cy="238.56" r="3.3"/>
<circle cx="1162.3" cy="252.96" r="3.3"/>
<circle cx="1165.59" cy="267.36" r="3.3"/>
<circle cx="1169.6" cy="281.76" r="3.3"/>
<circle cx="1171.21" cy="296.16" r="3.3"/>
<circle cx="1175.11" cy="310.56" r="3.3"/>
<circle cx="1177.2" cy="324.96" r="3.3"/>
<circle cx="1181.21" cy="339.36" r="3.3"/>
<circle cx="1183.06" cy="353.76" r="3.3"/>
<circle cx="1185.36" cy="368.16" r="3.3"/>
<circle cx="1187.59" cy="382.56" r="3.3"/>
<circle cx="1190.32" cy="396.96" r="3.3"/>
<circle cx="1191.67" cy="411.36" r="3.3"/>
<circle cx="1193.35" cy="425.76" r="3.3"/>
<circle cx="1195.53" cy="440.16" r="3.3"/>
<circle cx="1197.17" cy="454.56" r="3.3"/>
<circle cx="1199.72" cy="468.96" r="3.3"/>
<circle cx="1200.86" cy="483.36" r="3.3"/>
<circle cx="1203.3" cy="497.76" r="3.3"/>
<circle cx="1205.44" cy="512.16" r="3.3"/>
<circle cx="1206.28" cy="526.38" r="3.3"/>
<circle cx="1208.24" cy="540.47" r="3.3"/>
<circle cx="1209.92" cy="554.55" r="3.3"/>
<circle cx="1212.42" cy="568.66" r="3.3"/>
<circle cx="1213.68" cy="583.06" r="3.3"/>
<circle cx="1215.87" cy="597.46" r="3.3"/>
<circle cx="1217.35" cy="611.86" r="3.3"/>
<circle cx="1218.83" cy="626.26" r="3.3"/>
<circle cx="1221.41" cy="640.66" r="3.3"/>
<circle cx="1222.8" cy="655.06" r="3.3"/>
<circle cx="1224.09" cy="669.46" r="3.3"/>
<circle cx="1226.13" cy="683.86" r="3.3"/>
<circle cx="1227.66" cy="698.26" r="3.3"/>
<circle cx="1229.23" cy="712.66" r="3.3"/>
<circle cx="1230.45" cy="727.06" r="3.3"/>
<circle cx="1232.48" cy="741.46" r="3.3"/>
<circle cx="1233.66" cy="755.86" r="3.3"/>
<circle cx="1234.81" cy="770.26" r="3.3"/>
<circle cx="1237.07" cy="784.66" r="3.3"/>
<circle cx="1238.33" cy="799.06" r="3.3"/>
<circle cx="1238.4" cy="813.46" r="3.3"/>
<circle cx="1094.63" cy="28.74" r="3.3"/>
<circle cx="1095.32" cy="43.14" r="3.3"/>
<circle cx="1096.64" cy="57.54" r="3.3"/>
<circle cx="1098.91" cy="71.94" r="3.3"/>
<circle cx="1101.87" cy="86.34" r="3.3"/>
<circle cx="1149" cy="201.54" r="3.3"/>
<circle cx="1153.81" cy="215.94" r="3.3"/>
<circle cx="1157.34" cy="230.34" r="3.3"/>
<circle cx="1161.11" cy="244.74" r="3.3"/>
<circle cx="1164.5" cy="259.14" r="3.3"/>
<circle cx="1168.7" cy="273.54" r="3.3"/>
<circle cx="1171.24" cy="287.94" r="3.3"/>
<circle cx="1174.64" cy="302.34" r="3.3"/>
<circle cx="1176.68" cy="316.74" r="3.3"/>
<circle cx="1180.22" cy="331.14" r="3.3"/>
<circle cx="1183.58" cy="345.54" r="3.3"/>
<circle cx="1185.82" cy="359.94" r="3.3"/>
<circle cx="1187.48" cy="374.34" r="3.3"/>
<circle cx="1188.65" cy="388.74" r="3.3"/>
<circle cx="1191.73" cy="403.14" r="3.3"/>
<circle cx="1193.43" cy="417.54" r="3.3"/>
<circle cx="1195.54" cy="431.94" r="3.3"/>
<circle cx="1197.65" cy="446.34" r="3.3"/>
<circle cx="1200.08" cy="460.74" r="3.3"/>
<circle cx="1201.35" cy="475.14" r="3.3"/>
<circle cx="1203.16" cy="489.54" r="3.3"/>
<circle cx="1205.17" cy="503.94" r="3.3"/>
<circle cx="1206.97" cy="518.34" r="3.3"/>
<circle cx="1207.7" cy="532.43" r="3.3"/>
<circle cx="1210.12" cy="546.51" r="3.3"/>
<circle cx="1211.66" cy="560.59" r="3.3"/>
<circle cx="1213.52" cy="574.84" r="3.3"/>
<circle cx="1215.11" cy="589.24" r="3.3"/>
<circle cx="1217.48" cy="603.64" r="3.3"/>
<circle cx="1218.54" cy="618.04" r="3.3"/>
<circle cx="1221.57" cy="632.44" r="3.3"/>
<circle cx="1222.04" cy="646.84" r="3.3"/>
<circle cx="1223.27" cy="661.24" r="3.3"/>
<circle cx="1226.08" cy="675.64" r="3.3"/>
<circle cx="1226.79" cy="690.04" r="3.3"/>
<circle cx="1228.47" cy="704.44" r="3.3"/>
<circle cx="1229.86" cy="718.84" r="3.3"/>
<circle cx="1231.41" cy="733.24" r="3.3"/>
<circle cx="1234" cy="747.64" r="3.3"/>
<circle cx="1235.04" cy="762.04" r="3.3"/>
<circle cx="1236.35" cy="776.44" r="3.3"/>
<circle cx="1237.58" cy="790.84" r="3.3"/>
<circle cx="1239.97" cy="805.24" r="3.3"/>
<circle cx="1098.55" cy="109.81" r="3.3"/>
<circle cx="1102.3" cy="123.41" r="3.3"/>
<circle cx="1106.26" cy="134.44" r="3.3"/>
<circle cx="1113.54" cy="144.62" r="3.3"/>
<circle cx="1121.04" cy="155.86" r="3.3"/>
<circle cx="1133.89" cy="151.9" r="3.3"/>
<circle cx="1127.47" cy="167.32" r="3.3"/>
<circle cx="1133.89" cy="179.96" r="3.3"/>
<circle cx="1139.25" cy="164.96" r="3.3"/>
</g>
<polyline points="1092.5,28.5 1093.5,48.5 1096,68.5 1100,88.5 1106,108.5 1117,128.5 1126,148.5 1135,168.5 1142.7,188.5 1148.8,208.5 1154.4,228.5 1159.5,248.5 1164.5,268.5 1169,288.5 1172.7,308.5 1177,328.5 1181.2,348.5 1184.6,368.5 1186.8,388.5 1190.3,408.5 1192.2,428.5 1195.2,448.5 1198.2,468.5 1200.8,488.5 1203.3,508.5 1205.3,528.28 1208.4,547.84 1210.6,567.4 1212.9,587.4 1214.9,607.4 1218.2,627.4 1220.1,647.4 1222,667.4 1224.8,687.4 1227.1,707.4 1228.9,727.4 1231.9,747.4 1233.7,767.4 1235.7,787.4 1237.7,807.4" fill="none" stroke="#0000ff" stroke-width="2.8" stroke-linejoin="round" stroke-linecap="butt"/>
<g fill="#0000ff">
<circle cx="1092.5" cy="28.5" r="5.85"/>
<circle cx="1093.5" cy="48.5" r="5.85"/>
<circle cx="1096" cy="68.5" r="5.85"/>
<circle cx="1100" cy="88.5" r="5.85"/>
<circle cx="1106" cy="108.5" r="5.85"/>
<circle cx="1117" cy="128.5" r="5.85"/>
<circle cx="1126" cy="148.5" r="5.85"/>
<circle cx="1135" cy="168.5" r="5.85"/>
<circle cx="1142.7" cy="188.5" r="5.85"/>
<circle cx="1148.8" cy="208.5" r="5.85"/>
<circle cx="1154.4" cy="228.5" r="5.85"/>
<circle cx="1159.5" cy="248.5" r="5.85"/>
<circle cx="1164.5" cy="268.5" r="5.85"/>
<circle cx="1169" cy="288.5" r="5.85"/>
<circle cx="1172.7" cy="308.5" r="5.85"/>
<circle cx="1177" cy="328.5" r="5.85"/>
<circle cx="1181.2" cy="348.5" r="5.85"/>
<circle cx="1184.6" cy="368.5" r="5.85"/>
<circle cx="1186.8" cy="388.5" r="5.85"/>
<circle cx="1190.3" cy="408.5" r="5.85"/>
<circle cx="1192.2" cy="428.5" r="5.85"/>
<circle cx="1195.2" cy="448.5" r="5.85"/>
<circle cx="1198.2" cy="468.5" r="5.85"/>
<circle cx="1200.8" cy="488.5" r="5.85"/>
<circle cx="1203.3" cy="508.5" r="5.85"/>
<circle cx="1205.3" cy="528.28" r="5.85"/>
<circle cx="1208.4" cy="547.84" r="5.85"/>
<circle cx="1210.6" cy="567.4" r="5.85"/>
<circle cx="1212.9" cy="587.4" r="5.85"/>
<circle cx="1214.9" cy="607.4" r="5.85"/>
<circle cx="1218.2" cy="627.4" r="5.85"/>
<circle cx="1220.1" cy="647.4" r="5.85"/>
<circle cx="1222" cy="667.4" r="5.85"/>
<circle cx="1224.8" cy="687.4" r="5.85"/>
<circle cx="1227.1" cy="707.4" r="5.85"/>
<circle cx="1228.9" cy="727.4" r="5.85"/>
<circle cx="1231.9" cy="747.4" r="5.85"/>
<circle cx="1233.7" cy="767.4" r="5.85"/>
<circle cx="1235.7" cy="787.4" r="5.85"/>
<circle cx="1237.7" cy="807.4" r="5.85"/>
</g>
<polyline points="1106.1,18.5 1106.36,22.5 1106.62,26.5 1106.88,30.5 1107.14,34.5 1107.4,38.5 1107.79,42.5 1108.37,48.5 1109.33,58.5 1110.3,68.5 1110.6,78.5 1110.9,88.5 1111.9,98.5 1111.6,108.5 1111.4,118.5 1117.8,138.5 1126.9,158.5 1134.4,178.5 1140.9,198.5 1146.7,218.5 1158.1,268.5 1168.4,318.5 1184,418.5 1197.1,518.5 1209.6,617.4 1220.2,717.4 1231.7,817.4" fill="none" stroke="#ff0000" stroke-width="2.8" stroke-linejoin="round" stroke-linecap="butt"/>
<polyline points="1107.2,18.5 1107.46,22.5 1107.72,26.5 1107.98,30.5 1108.24,34.5 1108.5,38.5 1108.89,42.5 1109.47,48.5 1110.43,58.5 1111.4,68.5 1111.7,78.5 1112,88.5 1113,98.5 1112.7,108.5 1112.5,118.5 1118.9,138.5 1128,158.5 1135.5,178.5 1142,198.5 1147.8,218.5 1159.2,268.5 1169.5,318.5 1185.1,418.5 1198.2,518.5 1210.7,617.4 1221.3,717.4 1232.8,817.4" fill="none" stroke="#ff0000" stroke-width="2.8" stroke-linejoin="round" stroke-linecap="butt"/>
<polyline points="1108.2,18.5 1108.46,22.5 1108.72,26.5 1108.98,30.5 1109.24,34.5 1109.5,38.5 1109.89,42.5 1110.47,48.5 1111.43,58.5 1112.4,68.5 1112.7,78.5 1113,88.5 1114,98.5 1113.7,108.5 1113.5,118.5 1119.9,138.5 1129,158.5 1136.5,178.5 1143,198.5 1148.8,218.5 1160.2,268.5 1170.5,318.5 1186.1,418.5 1199.2,518.5 1211.7,617.4 1222.3,717.4 1233.8,817.4" fill="none" stroke="#ff0000" stroke-width="2.8" stroke-linejoin="round" stroke-linecap="butt"/>
<polyline points="1109.3,18.5 1109.56,22.5 1109.82,26.5 1110.08,30.5 1110.34,34.5 1110.6,38.5 1110.99,42.5 1111.57,48.5 1112.53,58.5 1113.5,68.5 1113.8,78.5 1114.1,88.5 1115.1,98.5 1114.8,108.5 1114.6,118.5 1121,138.5 1130.1,158.5 1137.6,178.5 1144.1,198.5 1149.9,218.5 1161.3,268.5 1171.6,318.5 1187.2,418.5 1200.3,518.5 1212.8,617.4 1223.4,717.4 1234.9,817.4" fill="none" stroke="#ff0000" stroke-width="2.8" stroke-linejoin="round" stroke-linecap="butt"/>
<g fill="#ff0000">
<circle cx="1107.7" cy="18.5" r="5.85"/>
<circle cx="1107.96" cy="22.5" r="5.85"/>
<circle cx="1108.22" cy="26.5" r="5.85"/>
<circle cx="1108.48" cy="30.5" r="5.85"/>
<circle cx="1108.74" cy="34.5" r="5.85"/>
<circle cx="1109" cy="38.5" r="5.85"/>
<circle cx="1109.39" cy="42.5" r="5.85"/>
<circle cx="1109.97" cy="48.5" r="5.85"/>
<circle cx="1110.93" cy="58.5" r="5.85"/>
<circle cx="1111.9" cy="68.5" r="5.85"/>
<circle cx="1112.2" cy="78.5" r="5.85"/>
<circle cx="1112.5" cy="88.5" r="5.85"/>
<circle cx="1113.5" cy="98.5" r="5.85"/>
<circle cx="1113.2" cy="108.5" r="5.85"/>
<circle cx="1113" cy="118.5" r="5.85"/>
<circle cx="1119.4" cy="138.5" r="5.85"/>
<circle cx="1129.05" cy="158.5" r="5.85"/>
<circle cx="1137.1" cy="178.5" r="5.85"/>
<circle cx="1144.15" cy="198.5" r="5.85"/>
<circle cx="1150.5" cy="218.5" r="5.85"/>
<circle cx="1161.9" cy="268.5" r="5.85"/>
<circle cx="1172.2" cy="318.5" r="5.85"/>
<circle cx="1187.8" cy="418.5" r="5.85"/>
<circle cx="1200.9" cy="518.5" r="5.85"/>
<circle cx="1213.4" cy="617.4" r="5.85"/>
<circle cx="1224" cy="717.4" r="5.85"/>
<circle cx="1235.5" cy="817.4" r="5.85"/>
</g>
<polyline points="1099.1,18.5 1099.34,22.5 1099.58,26.5 1099.82,30.5 1100.06,34.5 1100.3,38.5 1100.57,42.5 1100.97,48.5 1101.63,58.5 1102.3,68.5 1103.8,78.5 1106.5,88.5 1110.9,98.5 1115.6,108.5 1119.4,118.5 1126.6,138.5 1134.6,158.5 1142.4,178.5 1148.3,198.5 1154.4,218.5 1162,268.5 1174.7,318.5 1189.7,418.5 1202.5,518.5 1214.2,617.4 1224.9,717.4 1237,817.4" fill="none" stroke="#008000" stroke-width="2.8" stroke-linejoin="round" stroke-linecap="butt"/>
<g fill="#008000">
<circle cx="1099.1" cy="18.5" r="5.85"/>
<circle cx="1099.34" cy="22.5" r="5.85"/>
<circle cx="1099.58" cy="26.5" r="5.85"/>
<circle cx="1099.82" cy="30.5" r="5.85"/>
<circle cx="1100.06" cy="34.5" r="5.85"/>
<circle cx="1100.3" cy="38.5" r="5.85"/>
<circle cx="1100.57" cy="42.5" r="5.85"/>
<circle cx="1100.97" cy="48.5" r="5.85"/>
<circle cx="1101.63" cy="58.5" r="5.85"/>
<circle cx="1102.3" cy="68.5" r="5.85"/>
<circle cx="1103.8" cy="78.5" r="5.85"/>
<circle cx="1106.5" cy="88.5" r="5.85"/>
<circle cx="1110.9" cy="98.5" r="5.85"/>
<circle cx="1115.6" cy="108.5" r="5.85"/>
<circle cx="1119.4" cy="118.5" r="5.85"/>
<circle cx="1126.6" cy="138.5" r="5.85"/>
<circle cx="1134.6" cy="158.5" r="5.85"/>
<circle cx="1142.4" cy="178.5" r="5.85"/>
<circle cx="1148.3" cy="198.5" r="5.85"/>
<circle cx="1154.4" cy="218.5" r="5.85"/>
<circle cx="1162" cy="268.5" r="5.85"/>
<circle cx="1174.7" cy="318.5" r="5.85"/>
<circle cx="1189.7" cy="418.5" r="5.85"/>
<circle cx="1202.5" cy="518.5" r="5.85"/>
<circle cx="1214.2" cy="617.4" r="5.85"/>
<circle cx="1224.9" cy="717.4" r="5.85"/>
<circle cx="1237" cy="817.4" r="5.85"/>
</g>
<polyline points="1092.7,19.49 1092.84,21.58 1092.99,23.79 1093.15,26.14 1093.33,28.66 1093.51,31.38 1093.72,34.36 1093.94,37.65 1094.22,41.31 1094.55,45.43 1094.92,50.12 1095.34,55.49 1095.83,61.7 1096.4,68.92 1097.23,77.39 1098.2,87.37 1099.4,99.19 1102.6,113.25 1113.5,130.03 1123.5,150.11 1134.4,174.21 1145.3,203.15 1156.4,237.96 1166.5,279.83 1176.4,330.2 1186.3,390.75 1196.4,463.45 1207.1,549.87 1220.3,653.65 1235.5,777.83" fill="none" stroke="#ff00ff" stroke-width="2.8" stroke-linejoin="round" stroke-linecap="butt"/>
<g fill="#ff00ff">
<circle cx="1092.7" cy="19.49" r="5.85"/>
<circle cx="1092.84" cy="21.58" r="5.85"/>
<circle cx="1092.99" cy="23.79" r="5.85"/>
<circle cx="1093.15" cy="26.14" r="5.85"/>
<circle cx="1093.33" cy="28.66" r="5.85"/>
<circle cx="1093.51" cy="31.38" r="5.85"/>
<circle cx="1093.72" cy="34.36" r="5.85"/>
<circle cx="1093.94" cy="37.65" r="5.85"/>
<circle cx="1094.22" cy="41.31" r="5.85"/>
<circle cx="1094.55" cy="45.43" r="5.85"/>
<circle cx="1094.92" cy="50.12" r="5.85"/>
<circle cx="1095.34" cy="55.49" r="5.85"/>
<circle cx="1095.83" cy="61.7" r="5.85"/>
<circle cx="1096.4" cy="68.92" r="5.85"/>
<circle cx="1097.23" cy="77.39" r="5.85"/>
<circle cx="1098.2" cy="87.37" r="5.85"/>
<circle cx="1099.4" cy="99.19" r="5.85"/>
<circle cx="1102.6" cy="113.25" r="5.85"/>
<circle cx="1113.5" cy="130.03" r="5.85"/>
<circle cx="1123.5" cy="150.11" r="5.85"/>
<circle cx="1134.4" cy="174.21" r="5.85"/>
<circle cx="1145.3" cy="203.15" r="5.85"/>
<circle cx="1156.4" cy="237.96" r="5.85"/>
<circle cx="1166.5" cy="279.83" r="5.85"/>
<circle cx="1176.4" cy="330.2" r="5.85"/>
<circle cx="1186.3" cy="390.75" r="5.85"/>
<circle cx="1196.4" cy="463.45" r="5.85"/>
<circle cx="1207.1" cy="549.87" r="5.85"/>
<circle cx="1220.3" cy="653.65" r="5.85"/>
<circle cx="1235.5" cy="777.83" r="5.85"/>
</g>
</g>
<rect x="1072.6" y="19.45" width="402" height="795" fill="none" stroke="#000" stroke-width="1.3"/>
<g stroke="#000" stroke-width="1.3">
<line x1="1140.4" y1="814.45" x2="1140.4" y2="820.45"/>
<line x1="1213.5" y1="814.45" x2="1213.5" y2="820.45"/>
<line x1="1286.5" y1="814.45" x2="1286.5" y2="820.45"/>
<line x1="1360.3" y1="814.45" x2="1360.3" y2="820.45"/>
<line x1="1433.5" y1="814.45" x2="1433.5" y2="820.45"/>
<line x1="1072.6" y1="19.45" x2="1066.6" y2="19.45"/>
<line x1="1072.6" y1="68.5" x2="1066.6" y2="68.5"/>
<line x1="1072.6" y1="118.5" x2="1066.6" y2="118.5"/>
<line x1="1072.6" y1="168.5" x2="1066.6" y2="168.5"/>
<line x1="1072.6" y1="218.5" x2="1066.6" y2="218.5"/>
<line x1="1072.6" y1="268.5" x2="1066.6" y2="268.5"/>
<line x1="1072.6" y1="318.5" x2="1066.6" y2="318.5"/>
<line x1="1072.6" y1="368.5" x2="1066.6" y2="368.5"/>
<line x1="1072.6" y1="418.5" x2="1066.6" y2="418.5"/>
<line x1="1072.6" y1="468.5" x2="1066.6" y2="468.5"/>
<line x1="1072.6" y1="518.5" x2="1066.6" y2="518.5"/>
<line x1="1072.6" y1="567.4" x2="1066.6" y2="567.4"/>
<line x1="1072.6" y1="617.4" x2="1066.6" y2="617.4"/>
<line x1="1072.6" y1="667.4" x2="1066.6" y2="667.4"/>
<line x1="1072.6" y1="717.4" x2="1066.6" y2="717.4"/>
<line x1="1072.6" y1="767.4" x2="1066.6" y2="767.4"/>
</g>
<g font-size="16.67" fill="#000">
<text transform="translate(1139.3,850.4) rotate(-45)" text-anchor="middle" y="6.1">1026</text>
<text transform="translate(1212.4,850.4) rotate(-45)" text-anchor="middle" y="6.1">1028</text>
<text transform="translate(1285.4,850.4) rotate(-45)" text-anchor="middle" y="6.1">1030</text>
<text transform="translate(1359.2,850.4) rotate(-45)" text-anchor="middle" y="6.1">1032</text>
<text transform="translate(1432.4,850.4) rotate(-45)" text-anchor="middle" y="6.1">1034</text>
</g>
<g font-size="22.55" font-weight="bold" fill="#000">
<text x="178.7" y="872.2" letter-spacing="0.31">Temperature (</text>
<text x="362.3" y="863.2" font-weight="normal" font-style="italic" font-size="15.6">o</text>
<text x="372.5" y="872.2" font-weight="normal" font-style="italic" font-size="22.9">C</text>
<text x="388.5" y="872.2">)</text>
<text x="781.0" y="869.8" text-anchor="middle" font-size="22.2">Salinity</text>
<text x="1272.5" y="896.2" text-anchor="middle">Density (kg m-3)</text>
<text transform="translate(29.8,418.6) rotate(-90)" text-anchor="middle">Depth (m)</text>
</g>
<text x="424.2" y="918" font-size="17.36" font-style="italic" fill="#000" style="white-space:pre">Ocean Heat Content (kJ/cm^2) - Glider: N/A,  RTOFS: N/A,  ESPC: N/A,  CMEMS: N/A,  </text>
<g font-size="22.55" font-weight="bold" fill="#000">
<text x="1524.3" y="37">Comparison Date: 2024-12-27</text>
<text x="1524.3" y="90">Glider: sp011</text>
<text x="1524.3" y="116.5">Profiles: 7</text>
<text x="1524.3" y="143">First: 2024-12-27 02:36:45</text>
<text x="1524.3" y="169.7">Last: 2024-12-27 19:18:45</text>
<text x="1524.3" y="196.3">Method: Nearest-Neighbor</text>
</g>
<clipPath id="cmap"><rect x="1602.4" y="261.2" width="326" height="311"/></clipPath>
<g clip-path="url(#cmap)">
<rect x="1602.4" y="261.2" width="326" height="311" fill="#6495ed"/>
<rect x="1602.4" y="261.2" width="97.6" height="8.7" fill="#9db9e6"/>
<path d="M1691.9 261.2 L1696 264.6 L1699.2 268.2 L1700.3 271.5 L1701.5 275.1 L1703 279.6 L1705.6 284.7 L1707.6 287.7 L1710.6 293.8 L1712.1 298.3 L1714.2 302.4 L1716.2 306.4 L1717.2 310.4 L1718 313.2 L1722.8 316 L1726.4 318.6 L1730.9 323.2 L1735.5 328.6 L1736.9 333.2 L1734.6 336.4 L1729.1 337.7 L1723.7 336.4 L1722.3 334.2 L1724.6 337.9 L1730 341.4 L1732.8 345.5 L1741 350.9 L1746.4 349.6 L1748.2 352.3 L1753.7 355.9 L1757.3 359.6 L1759.2 364.1 L1758.7 369.6 L1756.4 374.1 L1759.2 377.8 L1765.5 381.4 L1771.9 385.5 L1777.4 389.6 L1780.1 394.2 L1781.9 398.3 L1786.5 396 L1788.7 392.8 L1786.5 388.7 L1783.7 384.2 L1782.8 380.5 L1778.5 382.6 L1774.6 378.7 L1775.5 375.1 L1771.9 369.6 L1768.3 362.3 L1765.5 355 L1761.9 351.4 L1757.3 344.1 L1752.8 338.7 L1750.1 333.2 L1748.2 327.7 L1743.7 322.3 L1740 317.7 L1736.4 314.5 L1732.4 312 L1729.8 307.4 L1729.3 302.9 L1728.3 298.3 L1726.8 294.8 L1726.8 290.2 L1727.3 284.7 L1730.3 287.2 L1734.9 289.7 L1737.4 287.7 L1740.4 290.2 L1742 292.8 L1747 293.8 L1747 299.3 L1748.5 302.4 L1750.6 306.4 L1751.6 310.4 L1753.6 314 L1755.5 317 L1757.3 320.5 L1761 325 L1765.5 330.5 L1769.2 335 L1775.5 336.8 L1776 342.3 L1781 345.9 L1784.6 350.5 L1789.2 352.3 L1791.9 356.9 L1788.3 360.5 L1789.2 364.6 L1794.6 366.9 L1801 370.5 L1804.6 375.1 L1809.2 378.7 L1814.7 383.2 L1818.3 388.7 L1822.8 395.1 L1824.6 396.8 L1830.1 402.3 L1831.4 407.7 L1833.7 412.3 L1836 416.8 L1833.7 421.4 L1835.5 425.5 L1831 428.7" fill="none" stroke="#9db9e6" stroke-width="9" stroke-linejoin="round"/>
<path d="M1691.9 261.2 L1696 264.6 L1699.2 268.2 L1700.3 271.5 L1701.5 275.1 L1703 279.6 L1705.6 284.7 L1707.6 287.7 L1710.6 293.8 L1712.1 298.3 L1714.2 302.4 L1716.2 306.4 L1717.2 310.4 L1718 313.2 L1722.8 316 L1726.4 318.6 L1730.9 323.2 L1735.5 328.6 L1736.9 333.2 L1734.6 336.4 L1729.1 337.7 L1723.7 336.4 L1722.3 334.2 L1724.6 337.9 L1730 341.4 L1732.8 345.5 L1741 350.9 L1746.4 349.6 L1748.2 352.3 L1753.7 355.9 L1757.3 359.6 L1759.2 364.1 L1758.7 369.6 L1756.4 374.1 L1759.2 377.8 L1765.5 381.4 L1771.9 385.5 L1777.4 389.6 L1780.1 394.2 L1781.9 398.3 L1786.5 396 L1788.7 392.8 L1786.5 388.7 L1783.7 384.2 L1782.8 380.5 L1778.5 382.6 L1774.6 378.7 L1775.5 375.1 L1771.9 369.6 L1768.3 362.3 L1765.5 355 L1761.9 351.4 L1757.3 344.1 L1752.8 338.7 L1750.1 333.2 L1748.2 327.7 L1743.7 322.3 L1740 317.7 L1736.4 314.5 L1732.4 312 L1729.8 307.4 L1729.3 302.9 L1728.3 298.3 L1726.8 294.8 L1726.8 290.2 L1727.3 284.7 L1730.3 287.2 L1734.9 289.7 L1737.4 287.7 L1740.4 290.2 L1742 292.8 L1747 293.8 L1747 299.3 L1748.5 302.4 L1750.6 306.4 L1751.6 310.4 L1753.6 314 L1755.5 317 L1757.3 320.5 L1761 325 L1765.5 330.5 L1769.2 335 L1775.5 336.8 L1776 342.3 L1781 345.9 L1784.6 350.5 L1789.2 352.3 L1791.9 356.9 L1788.3 360.5 L1789.2 364.6 L1794.6 366.9 L1801 370.5 L1804.6 375.1 L1809.2 378.7 L1814.7 383.2 L1818.3 388.7 L1822.8 395.1 L1824.6 396.8 L1830.1 402.3 L1831.4 407.7 L1833.7 412.3 L1836 416.8 L1833.7 421.4 L1835.5 425.5 L1831 428.7" fill="none" stroke="#b1c8e6" stroke-width="4.5" stroke-linejoin="round"/>
<path d="M1831 428.7 L1832.8 434.1 L1837.3 439.6 L1842.8 443.2 L1850.1 446.9 L1855.5 453.4 L1864.6 456.4 L1872.8 457.8 L1877.4 461.8 L1883.7 465.9 L1891.9 469.1 L1898.3 472.3 L1908.3 474.1 L1911.9 476.9 L1916.5 478.2 L1920.1 480.9 L1928.4 482" fill="none" stroke="#9db9e6" stroke-width="5" stroke-linejoin="round"/>
<path d="M1794.6 366.9 L1801 370.5 L1804.6 375.1 L1809.2 378.7 L1814.7 383.2 L1818.3 388.7 L1822.8 395.1 L1824.6 396.8 L1830.1 402.3 L1831.4 407.7 L1833.7 412.3 L1836 416.8 L1833.7 421.4" fill="none" stroke="#9db9e6" stroke-width="15" stroke-linejoin="round" stroke-linecap="round"/>
<path d="M1804.6 375.1 L1809.2 378.7 L1814.7 383.2 L1818.3 388.7 L1822.8 395.1 L1824.6 396.8 L1830.1 402.3 L1831.4 407.7 L1833.7 412.3 L1836 416.8" fill="none" stroke="#b1c8e6" stroke-width="8" stroke-linejoin="round" stroke-linecap="round"/>
<path d="M1750 333 L1757 331 L1766 338 L1772 346 L1768 349 L1760 343 L1753 340 Z" fill="#9db9e6"/>
<path d="M1664 269 L1700 269 L1712 300 L1706 300 L1700 292 L1694 293 L1688 286 L1682 284 L1676 277 L1668 273 Z" fill="#9db9e6" opacity="0.75"/>
<path d="M1718 313 L1736 329 L1736 336 L1724 337 L1717 330 Z" fill="#b1c8e6"/>
<path d="M1741 351 L1757 360 L1759 370 L1757 376 L1770 385 L1780 395 L1772 395 L1758 386 L1750 376 L1744 366 L1738 356 Z" fill="#9db9e6"/>
<path d="M1727.3 284.7 L1730.3 287.2 L1734.9 289.7 L1737.4 287.7 L1740.4 290.2 L1742 292.8 L1747 293.8 L1747 299.3 L1748.5 302.4 L1750.6 306.4 L1751.6 310.4 L1753.6 314 L1755.5 317 L1757.3 320.5 L1761 325 L1765.5 330.5 L1757 331 L1750.1 333.2 L1748.2 327.7 L1743.7 322.3 L1740 317.7 L1736.4 314.5 L1732.4 312 L1729.8 307.4 L1729.3 302.9 L1728.3 298.3 L1726.8 294.8 L1726.8 290.2 Z" fill="#9db9e6"/>
<path d="M1729 289 L1745 296 L1748 308 L1740 306 L1734 300 Z" fill="#b1c8e6"/>
<path d="M1928.4 429 L1925.2 421.4 L1922 414.1 L1920.2 408.5 L1919.7 406.5 L1918.6 400.4 L1919.7 392.3 L1919.2 385.2 L1918.1 378.7 L1918.6 372.6 L1919.7 367.5 L1923.5 364.5 L1925.2 359.4 L1923.2 354.4 L1922.2 348.3 L1919.7 343.8 L1922.5 340.5 L1922.2 337.2 L1926.7 332.1 L1928.4 331 L1928.4 331 L1928.4 429 Z" fill="#b1c8e6"/>
<path d="M1925.5 395 L1928.4 390 L1928.4 412 L1926 408 Z" fill="#6495ed"/>
<path d="M1691.9 261.2 L1696 264.6 L1699.2 268.2 L1700.3 271.5 L1701.5 275.1 L1703 279.6 L1705.6 284.7 L1707.6 287.7 L1710.6 293.8 L1712.1 298.3 L1714.2 302.4 L1716.2 306.4 L1717.2 310.4 L1718 313.2 L1722.8 316 L1726.4 318.6 L1730.9 323.2 L1735.5 328.6 L1736.9 333.2 L1734.6 336.4 L1729.1 337.7 L1723.7 336.4 L1722.3 334.2 L1724.6 337.9 L1730 341.4 L1732.8 345.5 L1741 350.9 L1746.4 349.6 L1748.2 352.3 L1753.7 355.9 L1757.3 359.6 L1759.2 364.1 L1758.7 369.6 L1756.4 374.1 L1759.2 377.8 L1765.5 381.4 L1771.9 385.5 L1777.4 389.6 L1780.1 394.2 L1781.9 398.3 L1786.5 396 L1788.7 392.8 L1786.5 388.7 L1783.7 384.2 L1782.8 380.5 L1778.5 382.6 L1774.6 378.7 L1775.5 375.1 L1771.9 369.6 L1768.3 362.3 L1765.5 355 L1761.9 351.4 L1757.3 344.1 L1752.8 338.7 L1750.1 333.2 L1748.2 327.7 L1743.7 322.3 L1740 317.7 L1736.4 314.5 L1732.4 312 L1729.8 307.4 L1729.3 302.9 L1728.3 298.3 L1726.8 294.8 L1726.8 290.2 L1727.3 284.7 L1730.3 287.2 L1734.9 289.7 L1737.4 287.7 L1740.4 290.2 L1742 292.8 L1747 293.8 L1747 299.3 L1748.5 302.4 L1750.6 306.4 L1751.6 310.4 L1753.6 314 L1755.5 317 L1757.3 320.5 L1761 325 L1765.5 330.5 L1769.2 335 L1775.5 336.8 L1776 342.3 L1781 345.9 L1784.6 350.5 L1789.2 352.3 L1791.9 356.9 L1788.3 360.5 L1789.2 364.6 L1794.6 366.9 L1801 370.5 L1804.6 375.1 L1809.2 378.7 L1814.7 383.2 L1818.3 388.7 L1822.8 395.1 L1824.6 396.8 L1830.1 402.3 L1831.4 407.7 L1833.7 412.3 L1836 416.8 L1833.7 421.4 L1835.5 425.5 L1831 428.7 L1832.8 434.1 L1837.3 439.6 L1842.8 443.2 L1850.1 446.9 L1855.5 453.4 L1864.6 456.4 L1872.8 457.8 L1877.4 461.8 L1883.7 465.9 L1891.9 469.1 L1898.3 472.3 L1908.3 474.1 L1911.9 476.9 L1916.5 478.2 L1920.1 480.9 L1928.4 482 L1928.4 429 L1925.2 421.4 L1922 414.1 L1920.2 408.5 L1919.7 406.5 L1918.6 400.4 L1919.7 392.3 L1919.2 385.2 L1918.1 378.7 L1918.6 372.6 L1919.7 367.5 L1923.5 364.5 L1925.2 359.4 L1923.2 354.4 L1922.2 348.3 L1919.7 343.8 L1922.5 340.5 L1922.2 337.2 L1926.7 332.1 L1928.4 331 L1928.4 261.2 Z" fill="#d2b48c"/>
<path d="M1919.5 367.5 L1925.5 365.5 L1921.5 380 L1919 378 Z" fill="#3c5270"/>
<g fill="none" stroke="#98b7e2" stroke-width="1.6" stroke-linejoin="round" stroke-linecap="round">
<path d="M1727.3 284.7 L1725.5 284.3 L1723.2 282.5 L1724.2 280 L1727.5 275.2 L1729.6 274"/>
<path d="M1732.5 273.6 L1735.4 274.3 L1740.4 272.5 L1745.5 270.5 L1752 269.8 L1760 268.8 L1764.5 269.6 L1770 268.8 L1773.6 269.6 L1778.2 267.7 L1782.7 270 L1786.4 272.1 L1790 271.2 L1791.8 273.2 L1794.6 274.8 L1797.3 272.3 L1799.1 269.6 L1802.8 266.4 L1802.8 263.7"/>
<path d="M1816.2 261.4 L1813.7 265.9 L1812.6 271.4 L1813.7 274.1 L1816.9 276.8 L1818.2 280.5 L1819.6 283.7 L1823.7 289.6 L1830.1 294.6 L1837.3 300.5 L1840.5 305.1 L1841.9 309.6 L1843.7 313.7 L1847.4 317.3 L1853.7 320.5 L1858.3 322.8 L1861 320.5 L1863.7 314.2 L1867.4 311.9 L1874.6 312.5 L1879.2 313.2 L1883.7 317.8 L1888.3 325.1 L1890.8 330.1 L1895.4 336.7 L1899.4 339.7 L1900.4 345.3 L1903.5 352.4 L1905.5 355.4 L1910.6 357.9 L1915.6 359.9 L1920.7 360.4 L1924.7 361.7"/>
<path d="M1876 263.7 L1881 268.2 L1884.7 269.1 L1888.8 271.2 L1894.7 269.6 L1895.1 265.9 L1898.3 263.2 L1901.9 262.5 L1905.6 265.5 L1910.1 269.6 L1914.7 273.2 L1920.1 278.2 L1923.8 283.2 L1926.5 288.2 L1928.4 290.5"/>
<path d="M1833.7 412.3 L1841 411.8 L1845.5 417.8 L1851.9 421.9 L1855.5 420.9 L1859.2 425.9 L1863.3 430 L1857.4 430.5"/>
<path d="M1891 408.2 L1897.4 413.2 L1902.8 413.7 L1910.1 410 L1919.2 406.4"/>
</g>
<g fill="none" stroke="#000" stroke-width="2.05" stroke-linejoin="round" stroke-linecap="round">
<path d="M1691.9 261.2 L1696 264.6 L1699.2 268.2 L1700.3 271.5 L1701.5 275.1 L1703 279.6 L1705.6 284.7 L1707.6 287.7 L1710.6 293.8 L1712.1 298.3 L1714.2 302.4 L1716.2 306.4 L1717.2 310.4 L1718 313.2 L1722.8 316 L1726.4 318.6 L1730.9 323.2 L1735.5 328.6 L1736.9 333.2 L1734.6 336.4 L1729.1 337.7 L1723.7 336.4 L1722.3 334.2 L1724.6 337.9 L1730 341.4 L1732.8 345.5 L1741 350.9 L1746.4 349.6 L1748.2 352.3 L1753.7 355.9 L1757.3 359.6 L1759.2 364.1 L1758.7 369.6 L1756.4 374.1 L1759.2 377.8 L1765.5 381.4 L1771.9 385.5 L1777.4 389.6 L1780.1 394.2 L1781.9 398.3 L1786.5 396 L1788.7 392.8 L1786.5 388.7 L1783.7 384.2 L1782.8 380.5 L1778.5 382.6 L1774.6 378.7 L1775.5 375.1 L1771.9 369.6 L1768.3 362.3 L1765.5 355 L1761.9 351.4 L1757.3 344.1 L1752.8 338.7 L1750.1 333.2 L1748.2 327.7 L1743.7 322.3 L1740 317.7 L1736.4 314.5 L1732.4 312 L1729.8 307.4 L1729.3 302.9 L1728.3 298.3 L1726.8 294.8 L1726.8 290.2 L1727.3 284.7 L1730.3 287.2 L1734.9 289.7 L1737.4 287.7 L1740.4 290.2 L1742 292.8 L1747 293.8 L1747 299.3 L1748.5 302.4 L1750.6 306.4 L1751.6 310.4 L1753.6 314 L1755.5 317 L1757.3 320.5 L1761 325 L1765.5 330.5 L1769.2 335 L1775.5 336.8 L1776 342.3 L1781 345.9 L1784.6 350.5 L1789.2 352.3 L1791.9 356.9 L1788.3 360.5 L1789.2 364.6 L1794.6 366.9 L1801 370.5 L1804.6 375.1 L1809.2 378.7 L1814.7 383.2 L1818.3 388.7 L1822.8 395.1 L1824.6 396.8 L1830.1 402.3 L1831.4 407.7 L1833.7 412.3 L1836 416.8 L1833.7 421.4 L1835.5 425.5 L1831 428.7 L1832.8 434.1 L1837.3 439.6 L1842.8 443.2 L1850.1 446.9 L1855.5 453.4 L1864.6 456.4 L1872.8 457.8 L1877.4 461.8 L1883.7 465.9 L1891.9 469.1 L1898.3 472.3 L1908.3 474.1 L1911.9 476.9 L1916.5 478.2 L1920.1 480.9 L1928.4 482"/>
<path d="M1928.4 429 L1925.2 421.4 L1922 414.1 L1920.2 408.5 L1919.7 406.5 L1918.6 400.4 L1919.7 392.3 L1919.2 385.2 L1918.1 378.7 L1918.6 372.6 L1919.7 367.5 L1923.5 364.5 L1925.2 359.4 L1923.2 354.4 L1922.2 348.3 L1919.7 343.8 L1922.5 340.5 L1922.2 337.2 L1926.7 332.1 L1928.4 331"/>
</g>
<g fill="none" stroke="#000" stroke-width="1.7" stroke-linejoin="round">
<path d="M1731 261.2 L1730.3 263.5 L1728.6 265.5 L1729.6 268 L1731 270 L1730.2 272.5 L1729.4 274.2"/>
<path d="M1792.9 261.2 L1792.9 292.3"/>
<path d="M1819.6 283.9 L1860.4 283.9 L1860.4 261.2"/>
<path stroke-dasharray="6.3 2.8" d="M1702.2 276.4 L1729.4 274"/>
<path stroke-dasharray="6.3 2.8" d="M1727.6 276.6 L1769.3 292.3 L1802.8 292.3 L1802.8 286.9 L1819.6 286.4 L1823.7 289.6 L1830.1 294.6 L1837.3 300.5 L1840.5 305.1 L1841.9 309.6 L1843.7 313.7 L1847.4 317.3 L1853.7 320.5 L1858.3 322.8 L1861 320.5 L1863.7 314.2 L1867.4 311.9 L1874.6 312.5 L1879.2 313.2 L1883.7 317.8 L1888.3 325.1 L1890.8 330.1 L1895.4 336.7 L1899.4 339.7 L1900.4 345.3 L1903.5 352.4 L1905.5 355.4 L1910.6 357.9 L1915.6 359.9 L1920.7 360.4 L1924.7 361.7"/>
</g>
<g fill="#000">
<ellipse cx="1675.1" cy="267" rx="1.9" ry="1.1" transform="rotate(25 1675.1 267)"/>
<ellipse cx="1686.5" cy="264.8" rx="2.0" ry="1.2" transform="rotate(35 1686.5 264.8)"/>
<ellipse cx="1686.5" cy="271.6" rx="2.4" ry="1.2" transform="rotate(50 1686.5 271.6)"/>
<ellipse cx="1688.7" cy="322.1" rx="1.1" ry="1.9" transform="rotate(-10 1688.7 322.1)"/>
<ellipse cx="1744.8" cy="320.2" rx="2.3" ry="5.6" transform="rotate(-30 1744.8 320.2)"/>
<ellipse cx="1747.5" cy="325.5" rx="1.3" ry="2.0" transform="rotate(-30 1747.5 325.5)"/>
<ellipse cx="1722.4" cy="332.8" rx="1.7" ry="2.3" transform="rotate(-20 1722.4 332.8)"/>
<ellipse cx="1820.8" cy="414.5" rx="4.2" ry="1.5" transform="rotate(42 1820.8 414.5)"/>
<ellipse cx="1772.8" cy="441.4" rx="1.2" ry="1.2" transform="rotate(0 1772.8 441.4)"/>
<ellipse cx="1771.2" cy="447.8" rx="2.0" ry="1.5" transform="rotate(0 1771.2 447.8)"/>
<ellipse cx="1728.6" cy="452.8" rx="1.3" ry="1.0" transform="rotate(0 1728.6 452.8)"/>
<ellipse cx="1768" cy="365.5" rx="1.2" ry="1.2" transform="rotate(0 1768 365.5)"/>
<ellipse cx="1772.5" cy="371" rx="1.0" ry="1.0" transform="rotate(0 1772.5 371)"/>
<ellipse cx="1783.5" cy="378.5" rx="1.6" ry="2.6" transform="rotate(-20 1783.5 378.5)"/>
<ellipse cx="1777" cy="376" rx="1.3" ry="2" transform="rotate(-20 1777 376)"/>
</g>
<ellipse cx="1755.6" cy="322.6" rx="2.0" ry="3.0" fill="#d2b48c" stroke="#000" stroke-width="1.6" transform="rotate(12 1755.6 322.6)"/>
<path d="M1924.5 334 L1921.5 337.5 L1924.3 340 L1919.2 343.5 L1921.8 349 L1922.6 355 L1924.6 360.5" fill="none" stroke="#000" stroke-width="4.2" stroke-linejoin="round" stroke-linecap="round"/>
<path d="M1771 366 L1774.5 372 L1777 377" fill="none" stroke="#000" stroke-width="1.4" stroke-dasharray="1.5 2.2" stroke-linecap="round"/>
<g fill="#b1c8e6" opacity="0.8">
<rect x="1638.5" y="303.8" width="1.5" height="1.5"/>
<rect x="1669" y="307" width="1.5" height="1.5"/>
<rect x="1624.5" y="460.8" width="1.5" height="1.5"/>
<rect x="1675" y="452" width="1.5" height="1.5"/>
<rect x="1701" y="453.3" width="1.5" height="1.5"/>
<rect x="1663" y="507" width="1.5" height="1.5"/>
<rect x="1671.5" y="509.5" width="1.5" height="1.5"/>
<rect x="1673.5" y="525" width="1.5" height="1.5"/>
<rect x="1866.5" y="511" width="1.5" height="1.5"/>
<rect x="1777.5" y="478" width="1.5" height="1.5"/>
<rect x="1789.5" y="478" width="1.5" height="1.5"/>
<rect x="1797" y="479.5" width="1.5" height="1.5"/>
<rect x="1758.5" y="445.5" width="1.5" height="1.5"/>
<rect x="1697.5" y="470" width="1.5" height="1.5"/>
<rect x="1722.5" y="465.5" width="1.5" height="1.5"/>
<rect x="1728" y="473.5" width="1.5" height="1.5"/>
<rect x="1763.5" y="479" width="1.5" height="1.5"/>
<rect x="1771" y="488" width="1.5" height="1.5"/>
<path d="M1774 544 L1781 545.5 L1788 546 L1795 548" stroke="#b1c8e6" stroke-width="1" fill="none" stroke-dasharray="2 1.5"/>
</g>
</g>
<g fill="none" stroke-linecap="square">
<path d="M1693 261.2 L1928.4 261.2" stroke="#b9b9b9" stroke-width="1.3"/>
<path d="M1692 261.2 L1602.4 261.2 L1602.4 572.2 L1928.4 572.2 L1928.4 261.2" stroke="#000" stroke-width="1.4"/>
</g>
<g stroke="#000" fill="none">
<path d="M1602.4 561.3 h-9.3 M1928.4 561.3 h9.3 M1602.4 527.1 h-9.3 M1928.4 527.1 h9.3 M1602.4 492.6 h-9.3 M1928.4 492.6 h9.3 M1602.4 457.5 h-9.3 M1928.4 457.5 h9.3 M1602.4 421.8 h-9.3 M1928.4 421.8 h9.3 M1602.4 385.4 h-9.3 M1928.4 385.4 h9.3 M1602.4 348.2 h-9.3 M1928.4 348.2 h9.3 M1602.4 309.9 h-9.3 M1928.4 309.9 h9.3 M1602.4 270.5 h-9.3 M1928.4 270.5 h9.3 M1602.4 572.2 v9.3 M1602.4 261.2 v-9.3 M1636.2 572.2 v9.3 M1636.2 261.2 v-9.3 M1670 572.2 v9.3 M1670 261.2 v-9.3 M1703.8 572.2 v9.3 M1703.8 261.2 v-9.3 M1737.6 572.2 v9.3 M1737.6 261.2 v-9.3 M1771.5 572.2 v9.3 M1771.5 261.2 v-9.3 M1805.3 572.2 v9.3 M1805.3 261.2 v-9.3 M1839.1 572.2 v9.3 M1839.1 261.2 v-9.3 M1872.9 572.2 v9.3 M1872.9 261.2 v-9.3 M1906.7 572.2 v9.3 M1906.7 261.2 v-9.3" stroke-width="3.2"/>
<path d="M1602.4 550 h-2.9 M1928.4 550 h2.9 M1602.4 538.6 h-2.9 M1928.4 538.6 h2.9 M1602.4 515.7 h-2.9 M1928.4 515.7 h2.9 M1602.4 504.1 h-2.9 M1928.4 504.1 h2.9 M1602.4 480.9 h-2.9 M1928.4 480.9 h2.9 M1602.4 469.2 h-2.9 M1928.4 469.2 h2.9 M1602.4 445.7 h-2.9 M1928.4 445.7 h2.9 M1602.4 433.8 h-2.9 M1928.4 433.8 h2.9 M1602.4 409.8 h-2.9 M1928.4 409.8 h2.9 M1602.4 397.7 h-2.9 M1928.4 397.7 h2.9 M1602.4 373.1 h-2.9 M1928.4 373.1 h2.9 M1602.4 360.7 h-2.9 M1928.4 360.7 h2.9 M1602.4 335.6 h-2.9 M1928.4 335.6 h2.9 M1602.4 322.8 h-2.9 M1928.4 322.8 h2.9 M1602.4 296.9 h-2.9 M1928.4 296.9 h2.9 M1602.4 283.8 h-2.9 M1928.4 283.8 h2.9 M1613.7 572.2 v2.9 M1613.7 261.2 v-2.9 M1624.9 572.2 v2.9 M1624.9 261.2 v-2.9 M1647.5 572.2 v2.9 M1647.5 261.2 v-2.9 M1658.8 572.2 v2.9 M1658.8 261.2 v-2.9 M1681.3 572.2 v2.9 M1681.3 261.2 v-2.9 M1692.6 572.2 v2.9 M1692.6 261.2 v-2.9 M1715.1 572.2 v2.9 M1715.1 261.2 v-2.9 M1726.4 572.2 v2.9 M1726.4 261.2 v-2.9 M1748.9 572.2 v2.9 M1748.9 261.2 v-2.9 M1760.2 572.2 v2.9 M1760.2 261.2 v-2.9 M1782.7 572.2 v2.9 M1782.7 261.2 v-2.9 M1794 572.2 v2.9 M1794 261.2 v-2.9 M1816.5 572.2 v2.9 M1816.5 261.2 v-2.9 M1827.8 572.2 v2.9 M1827.8 261.2 v-2.9 M1850.3 572.2 v2.9 M1850.3 261.2 v-2.9 M1861.6 572.2 v2.9 M1861.6 261.2 v-2.9 M1884.2 572.2 v2.9 M1884.2 261.2 v-2.9 M1895.4 572.2 v2.9 M1895.4 261.2 v-2.9 M1918 572.2 v2.9 M1918 261.2 v-2.9 M1929.2 572.2 v2.9 M1929.2 261.2 v-2.9" stroke-width="1.9"/>
</g>
<g font-size="22.0" fill="#000">
<text x="1586.4" y="570.7" text-anchor="end">9°N</text>
<text x="1586.4" y="536.5" text-anchor="end">12°N</text>
<text x="1586.4" y="502" text-anchor="end">15°N</text>
<text x="1586.4" y="466.9" text-anchor="end">18°N</text>
<text x="1586.4" y="431.2" text-anchor="end">21°N</text>
<text x="1586.4" y="394.8" text-anchor="end">24°N</text>
<text x="1586.4" y="357.6" text-anchor="end">27°N</text>
<text x="1586.4" y="319.3" text-anchor="end">30°N</text>
<text x="1586.4" y="279.9" text-anchor="end">33°N</text>
<text transform="translate(1600.4,623) rotate(-45)" text-anchor="middle" y="8.2">126°W</text>
<text transform="translate(1634.2,623) rotate(-45)" text-anchor="middle" y="8.2">123°W</text>
<text transform="translate(1668,623) rotate(-45)" text-anchor="middle" y="8.2">120°W</text>
<text transform="translate(1701.8,623) rotate(-45)" text-anchor="middle" y="8.2">117°W</text>
<text transform="translate(1735.6,623) rotate(-45)" text-anchor="middle" y="8.2">114°W</text>
<text transform="translate(1769.5,623) rotate(-45)" text-anchor="middle" y="8.2">111°W</text>
<text transform="translate(1803.3,623) rotate(-45)" text-anchor="middle" y="8.2">108°W</text>
<text transform="translate(1837.1,623) rotate(-45)" text-anchor="middle" y="8.2">105°W</text>
<text transform="translate(1870.9,623) rotate(-45)" text-anchor="middle" y="8.2">102°W</text>
<text transform="translate(1904.7,618) rotate(-45)" text-anchor="middle" y="8.2">99°W</text>
</g>
<circle cx="1663.2" cy="266.0" r="4.9" fill="#000"/>
<circle cx="1662.5" cy="265.0" r="4.0" fill="#ff0000" stroke="#000" stroke-width="1"/>
<rect x="1683.2" y="664.9" width="164.8" height="143.8" rx="4.5" ry="4.5" fill="#fff" fill-opacity="0.8" stroke="#cccccc" stroke-width="1.3"/>
<line x1="1691.2" y1="684.3" x2="1739.1" y2="684.3" stroke="#0000ff" stroke-width="2.8"/>
<circle cx="1715.1" cy="684.3" r="5.85" fill="#0000ff"/>
<text x="1755.3" y="692.6" font-size="22.3" fill="#000">sp011</text>
<line x1="1691.2" y1="718.4" x2="1739.1" y2="718.4" stroke="#ff0000" stroke-width="2.8"/>
<circle cx="1715.1" cy="718.4" r="5.85" fill="#ff0000"/>
<text x="1755.3" y="726.7" font-size="22.3" fill="#000">RTOFS</text>
<line x1="1691.2" y1="752.5" x2="1739.1" y2="752.5" stroke="#008000" stroke-width="2.8"/>
<circle cx="1715.1" cy="752.5" r="5.85" fill="#008000"/>
<text x="1755.3" y="760.8" font-size="22.3" fill="#000">ESPC</text>
<line x1="1691.2" y1="787.3" x2="1739.1" y2="787.3" stroke="#ff00ff" stroke-width="2.8"/>
<circle cx="1715.1" cy="787.3" r="5.85" fill="#ff00ff"/>
<text x="1755.3" y="795.6" font-size="22.3" fill="#000">CMEMS</text>
</svg>
</body></html>
